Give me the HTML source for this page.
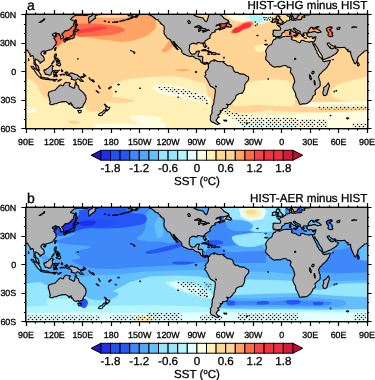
<!DOCTYPE html><html><head><meta charset="utf-8"><style>html,body{margin:0;padding:0;background:#fff;width:375px;height:380px;overflow:hidden}svg{display:block}text{stroke:#000;stroke-width:0.3px}</style></head><body>
<svg text-rendering="geometricPrecision" width="375" height="380" viewBox="0 0 375 380" font-family='"Liberation Sans", Arial, Helvetica, sans-serif' fill="#000">
<defs><clipPath id="clip"><rect x="26" y="14.5" width="341.5" height="114"/></clipPath>
<pattern id="dots" patternUnits="userSpaceOnUse" x="0" y="1" width="17" height="22"><g fill="#111"><circle cx="0.5" cy="0.5" r="0.8"/><circle cx="4.5" cy="0.5" r="0.8"/><circle cx="8.5" cy="0.5" r="0.8"/><circle cx="13.5" cy="0.5" r="0.8"/><circle cx="2.5" cy="2.5" r="0.8"/><circle cx="6.5" cy="2.5" r="0.8"/><circle cx="11.5" cy="2.5" r="0.8"/><circle cx="15.5" cy="2.5" r="0.8"/><circle cx="0.5" cy="4.5" r="0.8"/><circle cx="4.5" cy="4.5" r="0.8"/><circle cx="8.5" cy="4.5" r="0.8"/><circle cx="13.5" cy="4.5" r="0.8"/><circle cx="2.5" cy="7.5" r="0.8"/><circle cx="6.5" cy="7.5" r="0.8"/><circle cx="11.5" cy="7.5" r="0.8"/><circle cx="15.5" cy="7.5" r="0.8"/><circle cx="0.5" cy="9.5" r="0.8"/><circle cx="4.5" cy="9.5" r="0.8"/><circle cx="8.5" cy="9.5" r="0.8"/><circle cx="13.5" cy="9.5" r="0.8"/><circle cx="2.5" cy="11.5" r="0.8"/><circle cx="6.5" cy="11.5" r="0.8"/><circle cx="11.5" cy="11.5" r="0.8"/><circle cx="15.5" cy="11.5" r="0.8"/><circle cx="0.5" cy="13.5" r="0.8"/><circle cx="4.5" cy="13.5" r="0.8"/><circle cx="8.5" cy="13.5" r="0.8"/><circle cx="13.5" cy="13.5" r="0.8"/><circle cx="2.5" cy="15.5" r="0.8"/><circle cx="6.5" cy="15.5" r="0.8"/><circle cx="11.5" cy="15.5" r="0.8"/><circle cx="15.5" cy="15.5" r="0.8"/><circle cx="0.5" cy="18.5" r="0.8"/><circle cx="4.5" cy="18.5" r="0.8"/><circle cx="8.5" cy="18.5" r="0.8"/><circle cx="13.5" cy="18.5" r="0.8"/><circle cx="2.5" cy="20.5" r="0.8"/><circle cx="6.5" cy="20.5" r="0.8"/><circle cx="11.5" cy="20.5" r="0.8"/><circle cx="15.5" cy="20.5" r="0.8"/></g></pattern>
</defs>
<rect width="375" height="380" fill="#fff"/>
<g transform="translate(0,0.0)">
<g clip-path="url(#clip)">
<rect x="20" y="10" width="360" height="125" fill="#ffd494"/>
<path d="M112.0 86.0C114.0 83.5 120.3 81.3 125.0 80.0C129.7 78.7 134.2 78.6 140.0 78.0C145.8 77.4 153.3 76.7 160.0 76.5C166.7 76.3 174.2 76.2 180.0 77.0C185.8 77.8 190.5 79.7 195.0 81.0C199.5 82.3 204.5 82.7 207.0 85.0C209.5 87.3 209.2 91.7 210.0 95.0C210.8 98.3 211.3 101.2 212.0 105.0C212.7 108.8 213.7 113.8 214.0 118.0C214.3 122.2 233.8 128.0 214.0 130.0C194.2 132.0 114.8 131.7 95.0 130.0C75.2 128.3 94.2 123.0 95.0 120.0C95.8 117.0 98.2 114.7 100.0 112.0C101.8 109.3 103.8 106.8 106.0 104.0C108.2 101.2 112.0 98.0 113.0 95.0C114.0 92.0 110.0 88.5 112.0 86.0Z" fill="#fff0b6"/>
<path d="M20.0 79.0 L30.0 79.0 L37.0 85.0 L40.0 92.0 L45.0 98.0 L55.0 102.0 L70.0 104.0 L85.0 106.0 L95.0 108.0 L100.0 114.0 L100.0 130.0 L20.0 130.0Z" fill="#fff0b6"/>
<path d="M330.0 93.0C329.8 90.8 333.5 87.8 336.0 86.0C338.5 84.2 341.3 83.7 345.0 82.5C348.7 81.3 353.5 79.8 358.0 79.0C362.5 78.2 369.7 74.3 372.0 78.0C374.3 81.7 375.3 97.1 372.0 101.0C368.7 104.9 357.8 101.8 352.0 101.5C346.2 101.2 340.7 100.4 337.0 99.0C333.3 97.6 330.2 95.2 330.0 93.0Z" fill="#fff0b6"/>
<path d="M232.0 100.0C232.3 97.0 235.3 92.8 238.0 90.0C240.7 87.2 244.0 84.7 248.0 83.0C252.0 81.3 257.5 80.6 262.0 80.0C266.5 79.4 270.7 79.3 275.0 79.5C279.3 79.7 285.0 79.6 288.0 81.0C291.0 82.4 291.8 84.8 293.0 88.0C294.2 91.2 295.2 97.0 295.0 100.0C294.8 103.0 295.3 105.0 292.0 106.0C288.7 107.0 280.3 106.2 275.0 106.0C269.7 105.8 264.5 105.0 260.0 105.0C255.5 105.0 252.0 105.5 248.0 106.0C244.0 106.5 238.7 109.0 236.0 108.0C233.3 107.0 231.7 103.0 232.0 100.0Z" fill="#fff0b6"/>
<path d="M212.0 110.0 L240.0 108.0 L300.0 106.0 L372.0 103.0 L372.0 130.0 L212.0 130.0Z" fill="#fff0b6"/>
<path d="M86.0 83.0C87.8 80.5 91.8 80.2 95.0 80.0C98.2 79.8 102.2 81.0 105.0 82.0C107.8 83.0 111.2 83.8 112.0 86.0C112.8 88.2 111.0 92.0 110.0 95.0C109.0 98.0 107.7 101.5 106.0 104.0C104.3 106.5 102.3 108.7 100.0 110.0C97.7 111.3 94.3 112.3 92.0 112.0C89.7 111.7 87.3 110.8 86.0 108.0C84.7 105.2 84.0 99.2 84.0 95.0C84.0 90.8 84.2 85.5 86.0 83.0Z" fill="#ffd494"/>
<path d="M104.0 98.0C104.5 97.1 111.0 96.8 115.0 97.0C119.0 97.2 124.7 98.3 128.0 99.0C131.3 99.7 135.0 100.4 135.0 101.0C135.0 101.6 131.8 102.2 128.0 102.5C124.2 102.8 116.0 103.2 112.0 102.5C108.0 101.8 103.5 98.9 104.0 98.0Z" fill="#ffd494"/>
<path d="M232.0 107.0C234.3 105.9 244.0 105.7 250.0 105.5C256.0 105.3 265.0 105.2 268.0 106.0C271.0 106.8 271.0 108.9 268.0 110.0C265.0 111.1 255.3 112.2 250.0 112.5C244.7 112.8 239.0 112.9 236.0 112.0C233.0 111.1 229.7 108.1 232.0 107.0Z" fill="#ffd494"/>
<path d="M270.0 107.0C274.2 106.2 290.0 106.3 300.0 106.5C310.0 106.7 318.0 107.9 330.0 108.0C342.0 108.1 365.0 106.8 372.0 107.0C379.0 107.2 379.0 108.7 372.0 109.5C365.0 110.3 342.0 111.6 330.0 112.0C318.0 112.4 309.2 112.2 300.0 112.0C290.8 111.8 280.0 111.8 275.0 111.0C270.0 110.2 265.8 107.8 270.0 107.0Z" fill="#ffd494"/>
<path d="M69.0 121.0C69.8 120.5 73.2 120.2 75.0 120.5C76.8 120.8 80.0 121.9 80.0 122.5C80.0 123.1 76.7 124.0 75.0 124.2C73.3 124.4 71.0 124.0 70.0 123.5C69.0 123.0 68.2 121.5 69.0 121.0Z" fill="#ffd494"/>
<path d="M205.0 78.0C205.7 77.3 208.8 79.7 210.0 82.0C211.2 84.3 211.8 89.0 212.0 92.0C212.2 95.0 211.7 99.3 211.0 100.0C210.3 100.7 208.8 98.3 208.0 96.0C207.2 93.7 206.5 89.0 206.0 86.0C205.5 83.0 204.3 78.7 205.0 78.0Z" fill="#ffd494"/>
<path d="M152.0 87.5C152.0 86.0 156.2 84.8 160.0 84.5C163.8 84.2 170.0 84.8 175.0 85.5C180.0 86.2 185.3 87.6 190.0 89.0C194.7 90.4 199.5 92.3 203.0 94.0C206.5 95.7 210.0 97.4 211.0 99.0C212.0 100.6 211.7 103.1 209.0 103.5C206.3 103.9 200.2 102.5 195.0 101.5C189.8 100.5 183.8 98.8 178.0 97.5C172.2 96.2 164.3 95.2 160.0 93.5C155.7 91.8 152.0 89.0 152.0 87.5Z" fill="#fffce4"/>
<path d="M130.0 117.0C130.8 115.7 140.0 115.3 145.0 115.5C150.0 115.7 158.0 116.8 160.0 118.0C162.0 119.2 160.3 122.1 157.0 123.0C153.7 123.9 144.5 124.5 140.0 123.5C135.5 122.5 129.2 118.3 130.0 117.0Z" fill="#fffce4"/>
<path d="M146.0 119.0C148.2 118.3 156.7 120.0 160.0 121.0C163.3 122.0 166.0 124.0 166.0 125.0C166.0 126.0 163.2 127.0 160.0 127.0C156.8 127.0 149.3 126.3 147.0 125.0C144.7 123.7 143.8 119.7 146.0 119.0Z" fill="#fffce4"/>
<path d="M95.0 124.0 L120.0 123.5 L165.0 125.0 L165.0 130.0 L95.0 130.0Z" fill="#fffce4"/>
<path d="M20.0 108.0C21.3 107.1 27.2 107.2 30.0 107.5C32.8 107.8 36.5 109.1 37.0 110.0C37.5 110.9 35.5 112.5 33.0 113.0C30.5 113.5 24.2 113.8 22.0 113.0C19.8 112.2 18.7 108.9 20.0 108.0Z" fill="#fffce4"/>
<path d="M212.0 115.0 L240.0 114.0 L280.0 115.0 L320.0 113.0 L372.0 111.0 L372.0 130.0 L212.0 130.0Z" fill="#fffce4"/>
<path d="M300.0 103.0C304.2 102.3 318.0 102.2 330.0 102.0C342.0 101.8 365.0 100.9 372.0 101.5C379.0 102.1 379.0 104.7 372.0 105.5C365.0 106.3 341.2 106.4 330.0 106.5C318.8 106.6 310.0 106.6 305.0 106.0C300.0 105.4 295.8 103.7 300.0 103.0Z" fill="#fffce4"/>
<path d="M226.0 10.0 L274.0 10.0 L272.0 20.0 L265.0 23.0 L250.0 23.5 L235.0 21.0 L228.0 17.0Z" fill="#fffce4"/>
<path d="M243.0 10.0 L269.0 10.0 L268.0 21.0 L262.0 24.0 L252.0 24.0 L246.0 19.0Z" fill="#e2fefe"/>
<path d="M248.0 13.0 L262.0 13.0 L264.0 18.0 L262.0 22.0 L255.0 22.5 L250.0 20.0Z" fill="#b4f6fe"/>
<path d="M254.0 46.0C255.3 45.2 259.7 44.5 262.0 44.5C264.3 44.5 267.3 44.9 268.0 46.0C268.7 47.1 267.7 50.0 266.0 51.0C264.3 52.0 260.0 52.3 258.0 52.0C256.0 51.7 254.7 50.0 254.0 49.0C253.3 48.0 252.7 46.8 254.0 46.0Z" fill="#fff0b6"/>
<path d="M238.0 125.0 L260.0 123.5 L280.0 124.0 L294.0 125.0 L294.0 130.0 L238.0 130.0Z" fill="#e2fefe"/>
<path d="M70.0 10.0 L157.0 10.0 L156.0 19.0 L156.0 28.0 L148.0 35.6 L134.0 40.4 L122.0 42.3 L110.0 40.4 L98.0 39.2 L88.0 37.0 L79.0 35.0 L72.0 39.0 L64.0 43.0 L56.0 47.5 L50.0 47.0 L50.0 40.0 L56.0 33.0 L62.0 27.0 L68.0 20.0Z" fill="#ffa466"/>
<path d="M92.0 14.0 L134.0 14.0 L134.0 17.0 L115.0 18.0 L98.0 17.5Z" fill="#ffd494"/>
<path d="M171.0 38.0C172.7 37.2 175.4 39.3 176.0 40.5C176.6 41.7 175.7 43.4 174.5 45.0C173.3 46.6 170.8 48.7 169.0 50.0C167.2 51.3 164.7 52.5 163.5 52.6C162.3 52.7 161.4 51.7 161.8 50.5C162.2 49.3 164.5 47.6 166.0 45.5C167.5 43.4 169.3 38.8 171.0 38.0Z" fill="#ffa466"/>
<path d="M174.0 70.0C174.0 69.7 180.2 69.2 183.0 69.2C185.8 69.2 191.0 69.7 191.0 70.0C191.0 70.3 185.8 71.3 183.0 71.3C180.2 71.3 174.0 70.3 174.0 70.0Z" fill="#ffa466"/>
<path d="M230.5 31.5C231.1 30.2 234.1 27.9 236.0 26.5C237.9 25.1 239.8 23.9 242.0 23.0C244.2 22.1 247.1 21.1 249.0 21.0C250.9 20.9 253.0 21.3 253.5 22.2C254.0 23.1 253.4 25.2 252.0 26.5C250.6 27.8 247.3 28.7 245.0 29.8C242.7 30.9 240.1 32.3 238.0 33.0C235.9 33.7 233.8 34.2 232.5 34.0C231.2 33.8 229.9 32.8 230.5 31.5Z" fill="#ffa466"/>
<path d="M61.0 23.0C62.8 21.9 67.5 21.3 70.0 21.5C72.5 21.7 74.7 22.1 76.0 24.0C77.3 25.9 78.7 30.8 78.0 33.0C77.3 35.2 74.3 35.8 72.0 37.0C69.7 38.2 66.2 38.7 64.0 40.0C61.8 41.3 60.7 43.8 59.0 45.0C57.3 46.2 55.3 47.0 54.0 47.0C52.7 47.0 51.3 46.3 51.0 45.0C50.7 43.7 51.2 41.0 52.0 39.0C52.8 37.0 54.8 34.8 56.0 33.0C57.2 31.2 58.2 29.7 59.0 28.0C59.8 26.3 59.2 24.1 61.0 23.0Z" fill="#ff6a48"/>
<path d="M74.0 25.5C76.2 23.4 84.8 23.8 90.0 23.6C95.2 23.4 100.3 24.0 105.0 24.5C109.7 25.0 114.7 25.6 118.0 26.5C121.3 27.4 125.0 28.8 125.0 30.0C125.0 31.2 121.3 32.6 118.0 33.5C114.7 34.4 109.7 35.0 105.0 35.5C100.3 36.0 94.7 36.4 90.0 36.5C85.3 36.6 79.7 37.8 77.0 36.0C74.3 34.2 71.8 27.6 74.0 25.5Z" fill="#ff6a48"/>
<path d="M231.5 31.5C232.1 30.5 235.1 28.8 237.0 27.5C238.9 26.2 241.0 24.9 243.0 24.0C245.0 23.1 247.4 22.1 249.0 22.0C250.6 21.9 252.2 22.4 252.5 23.2C252.8 23.9 251.9 25.5 250.5 26.5C249.1 27.5 246.1 28.2 244.0 29.2C241.9 30.2 239.8 31.6 238.0 32.3C236.2 33.0 234.6 33.4 233.5 33.3C232.4 33.2 230.9 32.5 231.5 31.5Z" fill="#ff6a48"/>
<path d="M76.0 31.0C77.2 30.2 81.8 29.3 85.0 28.6C88.2 27.9 91.8 27.1 95.0 26.8C98.2 26.5 102.0 26.4 104.0 26.6C106.0 26.8 107.8 27.6 107.0 28.2C106.2 28.8 102.2 29.7 99.0 30.4C95.8 31.1 91.5 31.7 88.0 32.2C84.5 32.7 80.0 33.4 78.0 33.2C76.0 33.0 74.8 31.8 76.0 31.0Z" fill="#fc4044"/>
<path d="M232.5 31.0C232.5 30.2 233.8 28.7 235.0 28.0C236.2 27.3 238.2 27.6 239.5 27.0C240.8 26.4 241.2 25.2 242.5 24.5C243.8 23.8 246.1 23.1 247.5 23.0C248.9 22.9 250.8 23.2 251.0 24.0C251.2 24.8 250.2 26.7 249.0 27.5C247.8 28.3 245.5 28.1 244.0 28.8C242.5 29.5 241.5 30.8 240.0 31.5C238.5 32.2 236.2 33.1 235.0 33.0C233.8 32.9 232.5 31.8 232.5 31.0Z" fill="#f6303e"/>
<path d="M217.0 22.5 L227.0 22.5 L229.0 28.0 L218.0 28.5Z" fill="#fc4044"/>
<path d="M290.0 10.0 L314.0 10.0 L314.0 23.0 L290.0 23.0Z" fill="#b3b3b3"/>
<path d="M297.0 14.5 L302.5 14.5 L302.5 19.0 L298.0 20.0Z" fill="#ffa466"/>
<path d="M305.0 26.0 L322.0 25.5 L324.0 33.0 L310.0 34.0 L304.0 30.0Z" fill="#ffa466"/>
<path d="M324.0 23.0 L335.0 23.0 L335.0 38.0 L324.0 38.0Z" fill="#ff6a48"/>
<path d="M285.0 32.0C286.5 31.0 292.2 30.5 295.0 31.0C297.8 31.5 301.8 33.8 302.0 35.0C302.2 36.2 298.7 37.7 296.0 38.0C293.3 38.3 287.8 38.0 286.0 37.0C284.2 36.0 283.5 33.0 285.0 32.0Z" fill="#ffa466"/>
<path d="M157.5 86.8 L170.0 87.2 L185.0 89.5 L199.0 93.5 L206.0 96.5 L207.5 101.0 L200.0 100.2 L185.0 96.0 L170.0 92.0 L160.0 89.8Z" fill="url(#dots)"/>
<path d="M224.0 108.5 L232.0 111.0 L240.0 114.0 L250.0 115.5 L266.0 117.5 L296.0 118.0 L296.0 129.0 L245.0 129.0 L240.0 124.0 L232.0 118.0 L224.0 113.0Z" fill="url(#dots)"/>
<path d="M318.0 105.0 L368.0 105.0 L368.0 109.6 L318.0 109.6Z" fill="url(#dots)"/>
<path d="M296.0 119.0 L327.0 119.0 L327.0 127.0 L296.0 127.0Z" fill="url(#dots)"/>
<path d="M352.0 123.0 L368.0 123.0 L368.0 128.0 L352.0 128.0Z" fill="url(#dots)"/>
<circle cx="255.3" cy="22.0" r="0.8" fill="#111"/><circle cx="257.3" cy="24.0" r="0.8" fill="#111"/><circle cx="255.7" cy="25.6" r="0.8" fill="#111"/><circle cx="264.0" cy="17.6" r="0.8" fill="#111"/><circle cx="266.1" cy="17.6" r="0.8" fill="#111"/><circle cx="268.3" cy="18.0" r="0.8" fill="#111"/><circle cx="270.3" cy="17.3" r="0.8" fill="#111"/><circle cx="272.3" cy="18.1" r="0.8" fill="#111"/><circle cx="264.8" cy="19.7" r="0.8" fill="#111"/><circle cx="267.2" cy="20.0" r="0.8" fill="#111"/><circle cx="269.6" cy="19.7" r="0.8" fill="#111"/><circle cx="273.3" cy="19.6" r="0.8" fill="#111"/><circle cx="276.0" cy="18.0" r="0.8" fill="#111"/><circle cx="274.7" cy="21.3" r="0.8" fill="#111"/><circle cx="271.3" cy="21.6" r="0.8" fill="#111"/>
<g transform="translate(26.0,14.5) scale(0.947222,0.950000)">
<path d="M-95.6 24.0 L-96.3 23.2 L-97.4 22.8 L-98.9 23.0 L-98.8 21.8 L-99.5 21.2 L-99.3 20.2 L-98.8 18.1 L-99.3 17.0 L-98.0 16.3 L-95.5 16.5 L-92.0 16.6 L-91.5 16.4 L-91.2 14.5 L-92.2 12.8 L-94.7 11.6 L-93.0 11.2 L-91.6 11.3 L-91.4 10.3 L-89.8 10.5 L-88.5 9.8 L-87.5 8.9 L-86.4 8.5 L-85.4 7.5 L-85.1 6.8 L-83.5 6.5 L-81.5 6.3 L-81.3 5.0 L-81.9 3.5 L-81.4 2.9 L-79.5 2.3 L-79.6 3.5 L-79.2 4.7 L-80.1 5.2 L-79.0 6.0 L-77.0 5.7 L-75.5 6.1 L-73.5 5.5 L-71.5 5.2 L-70.4 5.6 L-68.8 4.8 L-69.0 3.5 L-68.3 2.5 L-67.4 2.3 L-66.5 3.0 L-65.7 2.8 L-65.6 1.7 L-66.5 1.1 L-65.5 0.5 L-63.5 0.5 L-62.0 0.5 L-59.8 0.1 L-61.0 -0.5 L-63.5 -0.5 L-67.0 0.1 L-68.5 -0.6 L-71.5 -0.3 L-71.1 0.2 L-71.8 0.7 L-72.5 1.3 L-73.4 2.1 L-73.6 3.4 L-74.5 3.9 L-75.7 4.5 L-77.1 4.6 L-77.4 3.8 L-78.1 2.4 L-78.9 1.0 L-79.4 0.2 L-79.8 0.9 L-80.7 1.3 L-82.0 1.9 L-83.4 1.9 L-84.4 1.2 L-84.8 0.5 L-85.1 -0.5 L-85.0 -2.0 L-70.0 -10.0 L10.0 -15.0 L90.0 -8.0 L100.0 -6.0 L92.0 -4.5 L89.0 -2.5 L84.0 -1.7 L80.5 0.0 L76.0 0.2 L73.5 1.0 L72.8 2.0 L73.3 3.9 L71.8 4.8 L70.1 6.0 L68.6 7.1 L67.5 8.4 L66.7 9.1 L66.3 7.5 L65.9 4.5 L66.8 2.5 L68.3 2.0 L70.2 0.6 L72.0 -0.5 L73.5 -2.0 L70.5 -1.8 L68.0 -1.5 L65.0 0.8 L62.0 1.0 L59.0 0.5 L56.0 0.7 L53.3 0.7 L51.0 1.5 L48.5 3.5 L47.0 5.3 L48.5 5.8 L50.3 6.2 L51.4 6.8 L50.6 8.5 L50.4 10.5 L50.0 12.0 L48.5 13.0 L46.0 15.8 L43.5 17.2 L42.0 16.8 L40.7 17.7 L39.7 19.1 L38.5 20.0 L37.5 20.5 L38.5 21.7 L39.4 23.0 L39.4 24.5 L39.0 24.9 L37.5 25.4 L36.4 25.6 L36.4 24.7 L36.8 23.5 L36.5 22.5 L35.3 22.2 L35.0 21.4 L35.3 20.5 L34.3 20.1 L32.9 20.4 L31.2 21.2 L32.2 19.6 L31.0 19.2 L29.5 20.1 L28.0 20.9 L27.7 21.6 L28.8 22.5 L29.8 22.8 L31.0 22.4 L32.6 22.6 L32.0 23.1 L30.5 23.8 L29.3 25.1 L30.3 25.8 L31.0 27.5 L31.9 28.3 L31.9 29.1 L31.5 29.5 L32.0 30.2 L31.5 31.5 L30.5 32.8 L29.6 33.8 L28.8 35.2 L27.5 36.3 L26.0 37.2 L24.3 37.7 L23.5 37.5 L22.0 38.3 L20.5 38.8 L20.2 39.7 L19.7 39.1 L19.7 38.5 L18.0 38.5 L16.8 39.3 L16.0 40.2 L15.7 41.2 L16.6 42.7 L18.2 44.0 L19.0 45.5 L19.3 47.5 L18.9 48.7 L17.0 49.6 L15.5 50.8 L14.8 51.4 L15.0 50.1 L14.5 49.5 L13.3 49.1 L12.6 47.8 L11.0 47.3 L10.2 46.7 L10.0 47.8 L9.2 49.8 L10.2 51.6 L10.6 52.8 L11.6 53.2 L12.5 54.0 L13.4 55.5 L13.5 57.2 L14.3 58.6 L13.5 58.7 L12.5 58.0 L11.3 57.1 L10.4 55.5 L10.3 54.0 L9.5 53.0 L8.3 52.0 L8.6 50.0 L8.5 47.5 L7.7 44.5 L7.3 43.2 L6.2 43.2 L5.3 44.2 L4.3 44.0 L4.5 42.5 L3.6 40.8 L2.3 39.2 L1.8 37.7 L0.6 37.5 L-1.0 38.2 L-3.0 38.5 L-3.5 39.8 L-5.0 40.7 L-6.5 42.0 L-7.7 43.3 L-9.1 44.2 L-9.9 46.4 L-10.2 48.8 L-11.0 49.8 L-11.8 51.1 L-12.5 51.9 L-13.5 51.1 L-14.2 48.8 L-15.3 47.0 L-16.2 44.5 L-17.0 42.0 L-17.2 40.5 L-17.4 38.7 L-18.0 38.8 L-19.5 39.2 L-21.0 37.8 L-19.7 37.1 L-21.4 36.7 L-22.7 35.8 L-23.4 34.6 L-26.0 34.7 L-28.5 34.9 L-31.0 34.6 L-32.7 34.2 L-33.7 32.9 L-35.5 33.4 L-37.5 32.5 L-39.0 31.2 L-40.0 29.9 L-41.4 30.0 L-42.0 30.7 L-41.4 32.0 L-40.4 33.2 L-39.8 34.2 L-39.3 35.0 L-38.8 33.9 L-38.4 34.8 L-38.4 35.7 L-37.0 35.9 L-35.5 35.7 L-34.2 34.6 L-33.7 33.7 L-33.6 35.1 L-32.7 36.1 L-31.3 36.4 L-30.2 37.5 L-31.2 39.1 L-32.2 40.8 L-33.2 41.4 L-34.7 42.4 L-36.5 43.3 L-37.8 44.4 L-40.5 45.4 L-42.0 46.0 L-44.5 47.0 L-46.5 47.3 L-47.2 45.2 L-47.4 43.4 L-48.8 41.2 L-50.2 39.5 L-50.9 38.0 L-51.8 36.0 L-52.9 34.4 L-54.4 32.4 L-55.2 31.1 L-55.1 30.5 L-55.7 32.0 L-56.8 31.4 L-57.4 30.1 L-57.7 28.8 L-55.8 28.7 L-55.1 27.5 L-54.4 25.6 L-54.1 24.5 L-53.8 23.4 L-54.5 23.4 L-55.8 23.8 L-57.2 23.9 L-59.2 23.2 L-60.5 23.8 L-62.4 23.2 L-62.7 22.5 L-63.7 21.7 L-63.1 20.9 L-63.8 20.4 L-63.6 19.7 L-62.5 19.5 L-61.0 19.2 L-61.0 18.8 L-63.9 19.4 L-66.0 19.2 L-67.0 19.5 L-67.3 19.5 L-67.4 20.4 L-66.7 21.0 L-67.5 21.7 L-66.0 21.8 L-66.9 22.1 L-67.2 23.5 L-68.3 23.2 L-68.9 22.2 L-68.4 21.6 L-69.3 21.1 L-70.0 20.3 L-70.6 19.5 L-70.5 18.2 L-71.5 17.5 L-73.0 16.8 L-74.5 16.1 L-75.7 14.8 L-76.4 14.9 L-76.3 14.3 L-77.7 14.7 L-77.6 15.7 L-76.4 16.5 L-75.3 18.0 L-73.8 18.3 L-72.0 19.4 L-71.5 19.9 L-72.9 19.5 L-73.5 20.3 L-72.9 21.1 L-74.0 22.1 L-74.4 21.7 L-74.0 20.5 L-75.1 19.7 L-76.0 19.1 L-77.4 18.6 L-78.8 17.6 L-79.5 17.0 L-79.8 16.1 L-81.2 15.6 L-82.5 16.2 L-84.0 16.9 L-85.2 16.6 L-86.8 16.8 L-86.8 18.1 L-88.0 18.8 L-89.2 19.4 L-90.3 20.6 L-89.8 21.3 L-90.6 22.4 L-92.0 23.3 L-94.4 23.3ZM264.4 24.0 L263.7 23.2 L262.6 22.8 L261.1 23.0 L261.2 21.8 L260.5 21.2 L260.7 20.2 L261.2 18.1 L260.7 17.0 L262.0 16.3 L264.5 16.5 L268.0 16.6 L268.5 16.4 L268.8 14.5 L267.8 12.8 L265.3 11.6 L267.0 11.2 L268.4 11.3 L268.6 10.3 L270.2 10.5 L271.5 9.8 L272.5 8.9 L273.6 8.5 L274.6 7.5 L274.9 6.8 L276.5 6.5 L278.5 6.3 L278.7 5.0 L278.1 3.5 L278.6 2.9 L280.5 2.3 L280.4 3.5 L280.8 4.7 L279.9 5.2 L281.0 6.0 L283.0 5.7 L284.5 6.1 L286.5 5.5 L288.5 5.2 L289.6 5.6 L291.2 4.8 L291.0 3.5 L291.7 2.5 L292.6 2.3 L293.5 3.0 L294.3 2.8 L294.4 1.7 L293.5 1.1 L294.5 0.5 L296.5 0.5 L298.0 0.5 L300.2 0.1 L299.0 -0.5 L296.5 -0.5 L293.0 0.1 L291.5 -0.6 L288.5 -0.3 L288.9 0.2 L288.2 0.7 L287.5 1.3 L286.6 2.1 L286.4 3.4 L285.5 3.9 L284.3 4.5 L282.9 4.6 L282.6 3.8 L281.9 2.4 L281.1 1.0 L280.6 0.2 L280.2 0.9 L279.3 1.3 L278.0 1.9 L276.6 1.9 L275.6 1.2 L275.2 0.5 L274.9 -0.5 L275.0 -2.0 L290.0 -10.0 L370.0 -15.0 L450.0 -8.0 L460.0 -6.0 L452.0 -4.5 L449.0 -2.5 L444.0 -1.7 L440.5 0.0 L436.0 0.2 L433.5 1.0 L432.8 2.0 L433.3 3.9 L431.8 4.8 L430.1 6.0 L428.6 7.1 L427.5 8.4 L426.7 9.1 L426.3 7.5 L425.9 4.5 L426.8 2.5 L428.3 2.0 L430.2 0.6 L432.0 -0.5 L433.5 -2.0 L430.5 -1.8 L428.0 -1.5 L425.0 0.8 L422.0 1.0 L419.0 0.5 L416.0 0.7 L413.3 0.7 L411.0 1.5 L408.5 3.5 L407.0 5.3 L408.5 5.8 L410.3 6.2 L411.4 6.8 L410.6 8.5 L410.4 10.5 L410.0 12.0 L408.5 13.0 L406.0 15.8 L403.5 17.2 L402.0 16.8 L400.7 17.7 L399.7 19.1 L398.5 20.0 L397.5 20.5 L398.5 21.7 L399.4 23.0 L399.4 24.5 L399.0 24.9 L397.5 25.4 L396.4 25.6 L396.4 24.7 L396.8 23.5 L396.5 22.5 L395.3 22.2 L395.0 21.4 L395.3 20.5 L394.3 20.1 L392.9 20.4 L391.2 21.2 L392.2 19.6 L391.0 19.2 L389.5 20.1 L388.0 20.9 L387.7 21.6 L388.8 22.5 L389.8 22.8 L391.0 22.4 L392.6 22.6 L392.0 23.1 L390.5 23.8 L389.3 25.1 L390.3 25.8 L391.0 27.5 L391.9 28.3 L391.9 29.1 L391.5 29.5 L392.0 30.2 L391.5 31.5 L390.5 32.8 L389.6 33.8 L388.8 35.2 L387.5 36.3 L386.0 37.2 L384.3 37.7 L383.5 37.5 L382.0 38.3 L380.5 38.8 L380.2 39.7 L379.7 39.1 L379.7 38.5 L378.0 38.5 L376.8 39.3 L376.0 40.2 L375.7 41.2 L376.6 42.7 L378.2 44.0 L379.0 45.5 L379.3 47.5 L378.9 48.7 L377.0 49.6 L375.5 50.8 L374.8 51.4 L375.0 50.1 L374.5 49.5 L373.3 49.1 L372.6 47.8 L371.0 47.3 L370.2 46.7 L370.0 47.8 L369.2 49.8 L370.2 51.6 L370.6 52.8 L371.6 53.2 L372.5 54.0 L373.4 55.5 L373.5 57.2 L374.3 58.6 L373.5 58.7 L372.5 58.0 L371.3 57.1 L370.4 55.5 L370.3 54.0 L369.5 53.0 L368.3 52.0 L368.6 50.0 L368.5 47.5 L367.7 44.5 L367.3 43.2 L366.2 43.2 L365.3 44.2 L364.3 44.0 L364.5 42.5 L363.6 40.8 L362.3 39.2 L361.8 37.7 L360.6 37.5 L359.0 38.2 L357.0 38.5 L356.5 39.8 L355.0 40.7 L353.5 42.0 L352.3 43.3 L350.9 44.2 L350.1 46.4 L349.8 48.8 L349.0 49.8 L348.2 51.1 L347.5 51.9 L346.5 51.1 L345.8 48.8 L344.7 47.0 L343.8 44.5 L343.0 42.0 L342.8 40.5 L342.6 38.7 L342.0 38.8 L340.5 39.2 L339.0 37.8 L340.3 37.1 L338.6 36.7 L337.3 35.8 L336.6 34.6 L334.0 34.7 L331.5 34.9 L329.0 34.6 L327.3 34.2 L326.3 32.9 L324.5 33.4 L322.5 32.5 L321.0 31.2 L320.0 29.9 L318.6 30.0 L318.0 30.7 L318.6 32.0 L319.6 33.2 L320.2 34.2 L320.7 35.0 L321.2 33.9 L321.6 34.8 L321.6 35.7 L323.0 35.9 L324.5 35.7 L325.8 34.6 L326.3 33.7 L326.4 35.1 L327.3 36.1 L328.7 36.4 L329.8 37.5 L328.8 39.1 L327.8 40.8 L326.8 41.4 L325.3 42.4 L323.5 43.3 L322.2 44.4 L319.5 45.4 L318.0 46.0 L315.5 47.0 L313.5 47.3 L312.8 45.2 L312.6 43.4 L311.2 41.2 L309.8 39.5 L309.1 38.0 L308.2 36.0 L307.1 34.4 L305.6 32.4 L304.8 31.1 L304.9 30.5 L304.3 32.0 L303.2 31.4 L302.6 30.1 L302.3 28.8 L304.2 28.7 L304.9 27.5 L305.6 25.6 L305.9 24.5 L306.2 23.4 L305.5 23.4 L304.2 23.8 L302.8 23.9 L300.8 23.2 L299.5 23.8 L297.6 23.2 L297.3 22.5 L296.3 21.7 L296.9 20.9 L296.2 20.4 L296.4 19.7 L297.5 19.5 L299.0 19.2 L299.0 18.8 L296.1 19.4 L294.0 19.2 L293.0 19.5 L292.7 19.5 L292.6 20.4 L293.3 21.0 L292.5 21.7 L294.0 21.8 L293.1 22.1 L292.8 23.5 L291.7 23.2 L291.1 22.2 L291.6 21.6 L290.7 21.1 L290.0 20.3 L289.4 19.5 L289.5 18.2 L288.5 17.5 L287.0 16.8 L285.5 16.1 L284.3 14.8 L283.6 14.9 L283.7 14.3 L282.3 14.7 L282.4 15.7 L283.6 16.5 L284.7 18.0 L286.2 18.3 L288.0 19.4 L288.5 19.9 L287.1 19.5 L286.5 20.3 L287.1 21.1 L286.0 22.1 L285.6 21.7 L286.0 20.5 L284.9 19.7 L284.0 19.1 L282.6 18.6 L281.2 17.6 L280.5 17.0 L280.2 16.1 L278.8 15.6 L277.5 16.2 L276.0 16.9 L274.8 16.6 L273.2 16.8 L273.2 18.1 L272.0 18.8 L270.8 19.4 L269.7 20.6 L270.2 21.3 L269.4 22.4 L268.0 23.3 L265.6 23.3ZM264.1 24.2 L263.7 25.0 L263.2 26.0 L261.5 26.7 L260.7 27.7 L260.2 29.4 L259.5 30.9 L258.5 31.9 L257.0 32.4 L255.5 33.9 L254.5 35.5 L253.8 36.5 L253.0 38.7 L253.5 40.4 L253.9 42.0 L253.5 44.0 L252.8 45.2 L253.2 46.5 L253.2 47.7 L254.5 48.6 L255.4 49.6 L256.7 50.8 L257.5 52.3 L258.7 53.2 L260.2 54.4 L262.4 55.6 L264.5 54.9 L267.0 54.9 L268.0 55.2 L270.5 54.2 L272.5 53.7 L274.5 53.7 L275.6 55.0 L276.5 55.7 L278.0 55.5 L279.0 56.0 L279.8 57.2 L279.4 59.0 L279.0 60.7 L280.0 62.0 L281.5 63.8 L282.3 65.5 L283.0 67.5 L283.4 69.3 L283.8 70.8 L282.5 73.6 L281.8 76.0 L281.8 77.5 L282.5 79.0 L283.5 81.0 L284.5 82.5 L284.8 85.0 L285.2 86.7 L286.5 88.6 L287.3 90.5 L288.2 92.3 L288.4 94.0 L289.5 94.6 L290.0 94.8 L292.0 94.0 L294.0 94.1 L295.7 94.0 L297.0 93.4 L298.5 92.3 L300.3 90.8 L301.5 89.0 L302.5 87.5 L302.8 85.9 L303.5 85.4 L305.3 84.3 L305.5 82.0 L305.0 80.3 L306.5 78.8 L308.0 77.4 L309.8 76.2 L310.6 74.8 L310.5 72.0 L310.4 70.3 L309.5 68.8 L309.3 67.0 L308.8 66.0 L309.2 64.6 L310.2 62.8 L311.5 61.8 L313.0 60.0 L314.5 58.5 L316.0 57.5 L317.8 55.5 L319.0 53.5 L320.0 52.0 L320.8 50.0 L321.3 48.2 L320.5 48.2 L318.5 48.8 L316.5 49.2 L315.0 49.6 L314.0 49.5 L313.3 48.5 L313.2 47.6 L312.6 46.8 L311.6 46.0 L310.7 45.0 L309.6 44.5 L309.1 43.5 L308.5 42.0 L307.4 41.2 L307.3 39.5 L306.9 38.0 L305.6 36.8 L305.4 35.9 L304.6 34.2 L304.0 33.0 L303.5 32.2 L302.6 30.2 L302.3 28.8 L301.0 28.4 L300.0 28.7 L299.0 29.1 L297.5 28.7 L295.2 28.4 L294.0 28.0 L293.0 27.4 L291.6 27.1 L290.1 27.7 L289.9 29.0 L289.0 29.7 L288.0 29.2 L286.0 28.7 L285.2 27.7 L283.0 27.1 L281.5 26.9 L280.5 26.4 L280.2 25.7 L281.0 24.7 L280.5 23.8 L281.0 23.0 L280.2 22.8 L279.5 22.7 L278.0 23.1 L276.0 23.0 L274.5 23.1 L273.0 23.2 L271.0 23.5 L269.5 24.2 L267.8 24.9 L266.5 24.7 L264.7 24.1ZM319.3 72.0 L320.4 75.5 L319.5 77.5 L318.7 80.0 L317.5 84.5 L315.2 85.5 L314.0 84.8 L313.3 82.0 L314.4 79.5 L314.0 77.0 L316.5 75.5 L318.0 73.7ZM104.0 -8.0 L105.0 -1.5 L105.5 -0.5 L107.5 0.1 L108.0 1.3 L110.0 1.4 L112.0 1.3 L113.0 1.7 L111.5 3.1 L109.5 4.0 L107.5 4.7 L105.2 5.5 L107.0 5.3 L109.0 4.7 L111.0 4.3 L112.5 3.5 L114.0 2.7 L115.5 1.7 L116.5 0.8 L118.2 0.9 L119.0 0.2 L120.5 0.1 L122.0 -0.2 L123.5 -0.8 L125.5 -0.1 L128.0 0.0 L130.0 0.3 L131.5 1.0 L133.0 1.7 L133.8 2.2 L135.0 3.2 L136.0 4.0 L137.0 5.0 L138.5 5.5 L139.7 5.7 L140.0 7.0 L141.5 8.0 L142.5 9.2 L141.7 9.2 L144.0 10.8 L145.4 11.6 L145.3 11.8 L145.9 13.1 L146.0 15.5 L145.5 17.2 L145.9 18.5 L145.6 19.6 L146.2 20.5 L147.0 22.0 L147.5 22.5 L148.1 23.4 L148.5 24.1 L149.3 25.0 L149.4 25.5 L150.5 25.6 L151.5 26.0 L152.4 26.6 L152.9 27.5 L153.4 28.4 L153.9 29.5 L154.3 30.2 L155.0 31.3 L155.9 32.0 L155.7 32.8 L157.0 33.5 L157.8 34.7 L158.8 35.8 L160.0 37.1 L160.5 36.7 L159.7 35.7 L159.3 35.1 L158.7 34.1 L158.0 33.0 L157.2 31.8 L156.5 30.7 L155.5 29.7 L155.2 28.4 L156.5 28.7 L157.2 30.0 L158.0 31.1 L159.0 32.1 L160.2 33.3 L161.0 34.4 L162.5 35.5 L163.6 36.8 L164.5 38.0 L164.4 39.5 L164.8 40.1 L165.7 40.9 L166.5 41.7 L168.0 42.1 L170.0 43.1 L171.5 43.7 L173.5 44.3 L175.0 43.8 L176.0 43.9 L177.0 44.4 L177.8 45.4 L179.0 46.1 L180.5 46.5 L182.0 46.8 L182.6 47.1 L183.5 47.8 L184.2 48.8 L184.2 49.7 L184.8 50.2 L185.5 50.5 L186.3 51.4 L187.1 51.9 L188.5 52.3 L189.6 52.6 L190.0 52.0 L190.5 51.1 L191.5 51.4 L192.0 52.5 L192.6 53.0 L192.7 52.0 L192.5 51.3 L191.5 50.6 L190.4 50.4 L189.5 50.9 L188.5 51.2 L187.5 50.6 L186.6 49.6 L186.3 48.5 L186.5 47.3 L186.6 45.7 L186.8 45.0 L185.5 44.1 L184.0 44.1 L182.4 44.2 L181.7 43.8 L181.8 42.5 L182.2 41.5 L182.5 40.2 L183.2 38.8 L182.5 38.5 L181.5 38.5 L179.7 38.9 L179.5 40.0 L179.2 40.8 L178.2 41.4 L177.0 41.5 L175.5 41.9 L174.5 41.3 L173.5 40.5 L172.8 39.3 L172.3 38.2 L172.2 37.0 L172.4 35.5 L172.8 34.2 L172.6 32.8 L173.0 32.0 L174.0 31.4 L175.0 30.8 L176.0 30.3 L177.5 30.4 L178.5 30.7 L179.5 30.9 L180.6 31.0 L180.6 29.9 L181.5 29.6 L182.5 29.7 L183.5 29.6 L184.7 30.3 L185.7 30.0 L186.5 30.6 L187.5 30.2 L188.6 29.5 L188.8 28.3 L189.5 27.7 L190.5 27.0 L191.4 26.2 L192.3 25.7 L193.4 25.3 L194.5 24.8 L194.2 23.8 L194.0 23.1 L194.3 22.5 L194.8 21.7 L195.0 21.1 L195.6 20.6 L196.0 19.8 L196.1 19.4 L197.5 19.0 L198.5 18.6 L199.4 18.4 L200.0 18.2 L199.5 17.8 L199.2 17.1 L199.8 16.3 L201.0 15.9 L202.5 15.5 L203.0 15.1 L204.0 14.7 L205.2 14.5 L203.8 15.8 L204.5 16.4 L206.0 15.6 L207.5 15.2 L209.0 14.7 L210.0 14.3 L209.7 13.5 L209.4 13.0 L208.5 13.8 L207.5 14.3 L206.0 14.0 L205.3 13.0 L204.5 12.2 L205.7 11.5 L205.5 11.0 L203.7 10.9 L202.0 11.5 L200.5 12.2 L201.5 10.9 L203.0 10.5 L205.0 9.8 L207.0 9.7 L209.5 9.8 L211.5 9.0 L212.8 8.5 L214.2 7.7 L213.8 6.5 L212.5 5.7 L210.5 4.8 L209.0 4.0 L208.2 3.0 L207.5 2.0 L206.0 1.0 L205.5 -0.3 L205.0 -1.0 L170.0 -6.0ZM192.6 53.0 L192.4 54.0 L192.7 56.0 L192.0 57.5 L191.1 58.6 L190.0 59.2 L189.9 60.5 L189.1 61.2 L189.7 62.5 L190.0 63.2 L188.8 64.3 L189.0 65.6 L190.1 66.8 L191.0 68.2 L192.0 70.0 L193.0 72.0 L193.8 73.8 L195.0 75.5 L197.0 76.6 L198.5 77.5 L199.7 78.4 L199.9 80.5 L199.6 83.3 L199.4 85.5 L199.0 87.8 L198.5 90.0 L198.4 92.5 L197.9 94.5 L197.2 96.0 L196.5 97.5 L196.7 99.5 L196.3 101.0 L196.2 102.5 L196.4 104.0 L195.4 105.5 L194.5 106.8 L195.0 108.5 L194.5 110.5 L195.0 112.0 L196.5 113.3 L198.5 114.0 L200.5 115.2 L202.5 115.7 L204.0 115.0 L204.8 114.7 L203.5 114.4 L202.2 113.5 L201.6 112.5 L200.8 111.8 L201.0 110.8 L201.8 110.0 L202.3 109.0 L204.0 107.8 L202.7 106.5 L202.5 105.8 L204.0 105.0 L204.8 104.5 L205.2 102.8 L206.3 102.6 L205.5 102.0 L205.0 101.0 L206.5 101.1 L207.8 100.5 L207.8 99.0 L209.0 98.9 L211.0 98.7 L212.4 98.0 L213.0 97.0 L213.3 96.3 L212.7 95.4 L211.6 94.4 L212.5 94.4 L214.0 94.9 L215.5 94.6 L216.5 93.7 L217.5 92.5 L218.7 91.0 L219.7 90.0 L221.0 88.5 L221.5 87.0 L221.5 85.7 L222.5 84.8 L224.0 84.0 L225.5 83.2 L227.0 83.0 L228.1 82.9 L229.0 82.0 L229.5 80.8 L230.3 79.3 L230.8 77.6 L231.0 75.5 L231.0 73.8 L231.6 72.9 L232.5 71.5 L233.7 70.3 L234.7 69.0 L235.1 67.5 L235.0 66.0 L234.5 65.2 L232.8 64.7 L231.5 63.7 L230.2 62.8 L228.5 62.8 L226.5 62.4 L225.5 62.5 L224.5 61.5 L223.0 60.7 L221.5 61.0 L220.5 60.2 L219.5 59.5 L219.0 58.2 L218.5 56.2 L217.2 54.7 L216.0 54.2 L214.5 54.0 L213.0 54.0 L211.7 53.2 L210.5 52.0 L209.5 51.4 L208.4 50.3 L207.5 49.5 L206.0 49.4 L204.5 49.8 L203.5 49.4 L201.8 49.5 L201.2 48.6 L200.0 48.4 L199.8 47.9 L199.2 48.8 L198.4 49.2 L198.0 48.4 L198.5 47.6 L197.7 48.2 L196.8 48.7 L195.5 49.0 L194.5 49.6 L194.2 50.7 L193.5 51.4 L192.7 52.0ZM24.0 81.8 L23.4 84.5 L24.0 86.0 L24.9 89.0 L25.0 90.5 L25.7 92.0 L25.0 93.5 L25.0 94.3 L26.5 95.0 L28.0 95.0 L30.0 93.9 L32.0 93.9 L34.0 93.0 L36.0 92.3 L39.0 91.7 L41.0 91.5 L43.0 92.1 L44.3 93.0 L45.6 94.9 L46.0 93.8 L47.8 93.0 L47.5 94.5 L48.0 95.6 L48.5 94.8 L49.5 95.9 L50.0 97.4 L51.5 98.4 L53.5 98.8 L54.9 97.9 L56.4 99.1 L57.9 97.9 L59.9 97.5 L60.1 96.0 L61.2 93.9 L62.5 92.3 L63.1 90.3 L63.6 88.6 L63.1 87.0 L63.1 85.5 L62.0 84.5 L60.8 82.5 L59.0 81.0 L58.0 80.0 L56.3 78.8 L55.5 76.0 L55.3 74.9 L53.5 74.0 L53.0 71.6 L52.5 70.7 L52.0 72.5 L51.6 75.0 L51.4 76.5 L50.7 77.5 L49.5 77.4 L47.8 76.2 L46.7 75.8 L45.5 74.8 L46.0 73.5 L46.8 72.2 L46.0 72.0 L43.0 71.5 L42.6 71.3 L41.0 72.2 L40.0 73.2 L39.6 74.9 L38.2 75.0 L37.0 74.0 L35.8 74.5 L34.5 75.5 L33.5 76.6 L32.2 77.9 L31.0 79.5 L29.0 80.0 L27.0 80.6 L25.5 81.0ZM30.6 41.5 L32.2 41.5 L32.1 43.0 L31.6 44.1 L31.6 45.8 L33.0 46.2 L34.1 47.1 L33.5 47.3 L32.6 46.7 L31.7 46.1 L30.9 46.1 L30.6 45.5 L30.0 45.2 L29.8 43.8 L30.4 43.5ZM32.0 53.1 L32.2 52.1 L33.7 52.0 L34.7 51.1 L35.5 50.2 L36.6 52.7 L36.2 53.7 L35.4 54.4 L34.0 53.7ZM19.0 58.2 L19.6 58.0 L21.0 58.4 L21.8 57.2 L23.0 56.8 L24.0 55.5 L25.0 55.0 L26.0 54.0 L27.0 53.0 L27.7 54.0 L29.2 54.6 L28.3 55.1 L27.7 55.8 L27.9 59.0 L29.0 59.1 L27.5 60.5 L26.6 61.5 L26.3 63.5 L24.5 64.0 L23.0 63.2 L21.7 63.0 L20.2 62.9 L20.0 61.5 L19.0 60.0ZM41.0 61.3 L42.5 60.4 L44.0 60.9 L44.2 62.5 L45.5 63.4 L47.0 61.5 L48.5 61.7 L50.5 62.4 L52.5 63.2 L54.5 63.8 L55.8 65.3 L57.5 66.0 L57.8 66.8 L58.0 68.0 L59.5 69.3 L60.6 70.5 L59.5 70.3 L57.5 70.1 L56.0 68.3 L54.5 67.5 L53.0 69.0 L51.0 69.1 L49.0 68.1 L48.0 68.4 L47.8 67.6 L48.5 66.5 L47.0 64.9 L45.0 64.4 L43.0 64.0 L42.0 62.8 L43.5 62.5 L42.0 62.0ZM210.6 12.4 L212.5 12.4 L214.5 13.0 L216.4 13.4 L217.3 12.5 L216.5 11.7 L216.2 10.7 L214.5 10.4 L214.4 8.4 L213.0 9.2 L211.5 10.8ZM298.0 18.5 L298.0 17.2 L298.7 16.0 L299.7 14.8 L300.8 13.5 L302.0 13.5 L303.6 13.9 L302.5 14.6 L303.6 15.6 L305.3 15.1 L306.6 14.7 L307.3 15.1 L308.3 15.8 L309.9 16.6 L311.6 18.4 L310.0 19.0 L308.0 19.1 L306.5 18.7 L305.0 18.0 L303.5 18.0 L301.5 18.8 L299.1 18.8ZM305.0 14.4 L305.5 14.6 L306.6 14.6 L308.0 13.5 L309.3 12.8 L307.5 12.9 L305.4 13.5ZM317.0 15.2 L317.5 14.4 L319.2 13.5 L321.5 13.0 L323.2 13.3 L323.0 14.7 L321.2 15.6 L320.5 16.0 L321.3 16.9 L322.7 18.0 L322.8 19.0 L323.9 19.2 L323.0 20.8 L324.0 22.5 L323.0 23.2 L321.0 23.3 L319.0 22.4 L318.8 21.2 L319.4 19.8 L318.6 18.2 L317.5 17.0 L317.5 16.0ZM177.0 -1.0 L177.4 0.9 L181.3 2.5 L187.0 3.7 L188.7 6.5 L190.4 7.6 L191.5 5.9 L192.6 2.0 L193.2 0.3 L193.0 -1.0Z" fill="#b3b3b3" fill-rule="evenodd" stroke="#000" stroke-width="1.1" vector-effect="non-scaling-stroke" stroke-linejoin="round"/>
<path d="M54.6 100.7 L56.5 101.1 L58.3 100.9 L58.3 102.0 L57.9 103.2 L56.0 103.6 L55.2 102.2ZM82.7 94.4 L84.3 95.5 L85.5 96.8 L86.5 97.7 L88.5 97.7 L87.9 99.3 L86.9 100.0 L85.3 101.6 L84.6 101.3 L85.2 100.2 L83.8 99.3 L84.6 98.2 L84.3 96.6 L83.0 95.0ZM82.7 100.5 L84.3 101.0 L84.0 101.8 L83.0 103.0 L82.7 103.8 L81.2 104.5 L80.7 105.9 L79.0 106.6 L76.5 106.0 L76.8 105.2 L78.3 104.0 L80.5 103.0 L81.5 101.8 L82.1 100.8ZM50.0 18.5 L51.2 18.2 L51.6 17.4 L53.2 18.0 L54.5 17.0 L55.8 16.6 L55.0 15.9 L53.0 15.5 L51.9 14.5 L51.6 15.6 L51.4 16.8 L50.3 16.7 L49.9 17.8ZM51.4 18.6 L52.0 20.5 L51.0 21.8 L51.0 23.0 L50.8 24.0 L50.9 24.3 L49.8 25.0 L49.2 24.8 L48.8 25.4 L47.2 25.4 L46.8 25.7 L45.8 26.5 L45.1 25.7 L44.3 25.3 L43.0 25.6 L41.9 26.0 L40.9 26.0 L41.5 25.4 L42.6 24.5 L44.0 24.4 L45.8 24.4 L46.7 23.7 L47.0 22.5 L47.5 23.0 L48.5 22.3 L49.5 21.5 L50.0 20.5 L50.0 19.5 L50.3 18.8ZM40.9 26.1 L41.9 26.8 L41.4 28.6 L40.7 29.0 L40.2 28.7 L40.2 27.5 L39.6 26.8 L40.5 26.2ZM42.0 26.5 L43.0 27.3 L44.3 26.7 L44.6 25.9 L43.5 25.7 L42.6 26.0ZM52.0 14.0 L53.5 13.5 L53.2 10.8 L54.5 11.2 L53.2 9.0 L53.2 8.0 L53.3 6.7 L52.7 5.6 L52.2 6.0 L52.2 8.0 L51.6 9.0 L52.1 11.0 L51.9 12.5ZM30.1 37.0 L30.7 38.0 L31.0 37.5 L31.6 36.0 L31.9 35.0 L31.5 34.7 L30.7 35.4ZM18.6 40.8 L19.7 41.8 L20.5 41.3 L21.0 40.3 L20.5 39.9 L19.7 40.0ZM34.3 47.5 L35.7 48.8 L35.2 50.0 L34.8 49.7 L34.4 48.6ZM31.9 48.1 L33.2 49.0 L33.2 50.7 L32.5 50.4 L32.0 49.4ZM33.4 48.8 L34.0 49.6 L33.5 50.3ZM30.3 46.5 L31.5 46.8 L31.2 47.7 L30.6 47.5ZM27.2 51.7 L29.5 48.6 L29.7 49.4 L27.5 52.0ZM5.3 54.4 L7.5 54.8 L8.7 56.3 L10.4 57.8 L11.5 58.3 L13.5 60.0 L14.2 61.0 L15.0 62.5 L15.9 63.8 L15.8 65.8 L14.5 65.9 L12.3 64.0 L10.9 62.0 L10.3 60.9 L9.3 59.8 L8.7 58.3 L7.5 57.4 L6.0 55.8ZM15.2 66.8 L16.0 65.9 L18.3 66.3 L20.4 66.9 L22.6 66.9 L24.4 67.7 L24.6 68.7 L22.0 68.3 L20.0 68.1 L18.0 67.8 L16.4 67.4ZM29.4 65.5 L29.6 63.5 L28.9 62.6 L29.8 60.0 L30.1 59.3 L31.0 58.7 L32.5 59.0 L34.5 59.0 L35.2 58.4 L34.3 59.6 L33.0 59.5 L31.0 59.5 L30.2 59.8 L30.5 61.0 L31.5 61.0 L33.3 60.9 L32.5 61.5 L31.3 62.0 L32.4 63.5 L33.2 64.7 L32.5 65.5 L31.5 64.6 L31.0 63.0 L30.4 62.9 L30.4 65.5ZM37.5 57.8 L38.0 58.7 L38.7 59.0 L37.9 59.5 L38.8 59.7 L38.0 60.3 L37.4 59.5ZM38.0 62.9 L40.0 62.9 L40.8 63.6 L39.5 63.5 L38.2 63.4ZM36.0 63.2 L37.2 63.2 L37.0 63.8 L36.2 63.8ZM58.3 65.5 L60.0 65.0 L61.5 64.3 L62.3 64.5 L61.5 65.5 L60.0 66.2 L58.5 66.0ZM60.5 62.6 L62.5 64.0 L63.2 64.7 L62.6 64.4 L61.2 63.0ZM74.0 80.2 L75.5 81.0 L77.0 82.3 L76.5 82.4 L74.3 80.6ZM349.9 50.2 L351.0 51.2 L351.9 52.7 L351.6 53.6 L350.6 54.1 L350.0 53.5 L349.8 52.0ZM264.3 9.9 L265.8 9.6 L267.0 9.3 L269.0 9.2 L271.4 8.8 L271.0 8.2 L271.7 7.3 L270.3 7.0 L270.1 6.4 L269.8 5.8 L268.7 5.2 L268.4 4.4 L267.5 4.0 L267.4 3.6 L268.2 2.5 L266.5 2.3 L267.0 1.4 L265.0 1.4 L264.5 2.5 L264.3 3.5 L264.5 4.6 L265.2 5.0 L265.0 5.3 L266.8 5.2 L266.5 6.0 L267.0 6.7 L265.4 6.7 L265.9 7.2 L265.9 7.7 L264.7 8.2 L266.0 8.4 L267.0 8.8 L265.5 9.0ZM264.0 7.8 L263.9 6.7 L264.0 5.5 L264.1 4.8 L262.7 4.6 L261.5 5.1 L260.0 5.8 L260.5 6.7 L260.1 7.8 L259.7 8.2 L260.5 8.5 L262.0 8.2 L263.7 7.8ZM185.1 38.1 L187.0 37.1 L189.0 36.9 L190.5 37.6 L192.5 38.3 L194.3 38.9 L195.9 39.8 L194.5 40.1 L192.3 40.1 L192.7 39.3 L191.5 38.5 L189.5 38.0 L188.0 37.8 L186.5 38.0ZM195.6 41.5 L197.2 40.1 L199.0 40.1 L200.5 40.8 L201.7 41.4 L200.5 41.7 L198.9 42.3 L197.5 41.8 L195.6 41.7ZM191.7 41.6 L193.7 41.9 L193.2 42.2 L191.8 41.8ZM202.8 41.5 L204.4 41.6 L204.2 42.0 L202.8 42.0ZM115.2 2.7 L117.8 2.0 L117.5 2.5 L116.0 3.3ZM282.4 22.0 L285.6 21.7 L285.1 23.3 L282.6 22.4ZM278.2 19.0 L279.6 18.9 L279.6 20.9 L278.4 21.1 L278.4 20.0ZM278.6 18.0 L279.4 17.0 L279.6 17.9 L279.2 18.6ZM293.5 24.5 L296.3 24.7 L296.2 25.0 L294.0 24.8ZM302.3 25.0 L304.6 24.4 L304.0 25.1 L303.0 25.4ZM226.0 0.2 L227.0 -0.2 L223.0 -1.0 L222.0 -1.0ZM208.7 111.2 L212.0 111.3 L211.5 112.2 L209.5 112.0ZM323.3 47.3 L324.5 47.4 L324.2 47.7 L323.5 47.7ZM2.7 46.5 L3.0 48.0 L2.6 48.5ZM25.0 68.1 L25.7 68.4 L25.2 68.8ZM26.0 68.3 L26.7 68.3 L26.4 68.9ZM27.0 68.5 L29.0 68.3 L28.8 68.8 L27.2 69.0ZM29.8 68.5 L32.8 68.2 L32.5 68.7 L30.0 68.8ZM33.5 70.3 L35.0 69.0 L37.3 68.4 L36.0 69.2 L34.2 70.2ZM29.0 69.5 L30.8 69.8 L30.5 70.3 L29.2 69.8ZM66.5 66.6 L67.5 67.3 L67.0 67.5ZM67.5 68.2 L69.5 69.3 L70.5 69.8 L69.8 69.9 L68.0 68.8ZM70.5 68.5 L71.5 69.5 L71.2 69.6 L70.6 68.9ZM70.2 70.3 L71.9 70.6 L72.2 70.8 L71.3 70.9ZM76.6 74.7 L77.2 75.6 L76.8 75.6ZM77.2 76.1 L78.5 77.7 L78.2 77.8 L77.2 76.6ZM87.3 77.5 L88.6 77.4 L88.4 78.2 L87.4 78.1ZM88.8 76.4 L90.0 76.1 L89.8 76.8 L88.7 76.9ZM114.1 39.8 L115.0 40.3 L114.4 41.1 L114.0 40.4ZM113.4 39.0 L114.0 39.2 L113.6 39.4ZM111.8 38.4 L112.3 38.7 L111.9 38.7ZM110.3 37.8 L110.7 37.9 L110.4 38.1ZM186.5 30.6 L187.3 31.5 L187.4 32.7 L188.2 33.8 L189.0 34.8 L189.6 34.7 L189.9 33.7 L189.7 32.5 L189.4 31.5 L188.8 30.4 L188.6 29.5ZM102.4 6.2 L103.4 5.9 L104.4 6.2 L103.4 6.5ZM100.8 6.6 L101.7 6.3 L102.6 6.6 L101.7 6.9ZM99.0 7.2 L99.5 6.9 L100.0 7.2 L99.5 7.5ZM95.7 7.8 L96.5 7.5 L97.3 7.8 L96.5 8.0ZM94.6 7.8 L95.4 7.5 L96.2 7.8 L95.4 8.0ZM92.6 8.1 L93.3 7.8 L94.0 8.1 L93.3 8.4ZM91.4 8.2 L92.0 7.9 L92.6 8.2 L92.0 8.5ZM86.9 8.0 L87.5 7.7 L88.1 8.0 L87.5 8.3ZM82.4 7.1 L83.2 6.8 L84.0 7.1 L83.2 7.4ZM107.0 5.4 L107.5 5.2 L108.0 5.4 L107.5 5.6ZM325.1 81.1 L325.5 80.7 L325.9 81.1 L325.5 81.5ZM327.2 80.3 L327.6 79.9 L328.0 80.3 L327.6 80.7ZM338.3 109.3 L339.5 108.7 L340.7 109.3 L339.5 109.9ZM321.1 106.4 L321.5 106.1 L321.9 106.4 L321.5 106.7ZM255.4 67.9 L255.7 67.6 L256.0 67.9 L255.7 68.2ZM120.0 77.6 L120.5 77.3 L121.0 77.6 L120.5 77.9ZM96.9 73.7 L97.7 73.3 L98.5 73.7 L97.7 74.1ZM94.3 81.2 L94.8 80.8 L95.3 81.2 L94.8 81.6ZM178.8 60.5 L179.5 59.9 L180.2 60.5 L179.5 61.1ZM160.3 87.1 L160.6 86.8 L160.9 87.1 L160.6 87.4ZM232.5 114.3 L233.5 114.0 L234.5 114.3 L233.5 114.6ZM243.8 22.2 L244.4 21.9 L245.0 22.2 L244.4 22.5ZM252.0 31.7 L253.5 31.3 L255.0 31.7 L253.5 32.1ZM252.6 27.3 L253.0 27.0 L253.4 27.3 L253.0 27.6ZM54.5 46.6 L54.8 46.3 L55.1 46.6 L54.8 46.9ZM189.2 33.4 L190.0 32.8 L190.8 33.4 L190.0 34.0ZM192.0 35.5 L192.5 34.7 L193.0 35.5 L192.5 36.3ZM208.6 45.5 L209.0 44.9 L209.4 45.5 L209.0 46.1ZM208.1 49.6 L208.7 49.2 L209.3 49.6 L208.7 50.0ZM190.7 93.6 L191.0 93.3 L191.3 93.6 L191.0 93.9Z" fill="none" stroke="#000" stroke-width="1.1" vector-effect="non-scaling-stroke" stroke-linejoin="round"/>
<path d="M13.8 8.4 L15.5 8.2 L17.5 7.0 L19.5 5.5 L19.8 4.3 L19.3 4.2 L18.5 5.5 L16.5 6.8 L14.5 8.0ZM171.5 9.5 L173.0 9.5 L173.5 8.0 L172.0 6.2 L170.8 7.0ZM328.5 16.0 L331.0 15.5 L331.5 13.5 L329.5 13.8 L328.2 14.5ZM344.0 14.0 L346.0 13.4 L349.0 13.5 L349.2 13.1 L346.0 13.0 L344.3 13.2ZM301.8 61.0 L303.0 59.7 L304.0 59.8 L304.0 61.5 L303.0 62.5 L301.8 62.2ZM299.2 63.4 L299.6 63.4 L301.0 66.0 L301.2 68.6 L300.6 68.6 L299.5 66.5ZM304.2 69.5 L304.6 69.6 L305.2 72.0 L305.3 74.3 L304.8 74.2 L304.3 72.0ZM283.5 47.4 L284.8 47.0 L284.6 46.0 L283.6 46.2ZM200.0 75.3 L201.0 75.6 L201.2 76.3 L200.2 76.0ZM178.0 13.3 L182.0 11.5 L185.0 13.0 L185.5 13.5 L182.5 13.5ZM182.2 18.0 L183.5 17.5 L184.5 14.5 L186.0 14.0 L186.5 14.8 L188.5 14.7 L190.0 15.5 L187.5 17.0 L185.5 16.5 L184.0 15.8 L183.0 14.5 L182.2 15.5ZM186.5 18.3 L191.0 17.2 L190.5 17.5 L187.5 18.5ZM190.3 16.7 L193.8 16.5 L192.5 16.1 L190.5 16.4ZM153.0 -1.0 L157.0 -1.5 L156.0 -2.0 L153.0 -1.6Z" fill="#b3b3b3" stroke="#000" stroke-width="1.1" vector-effect="non-scaling-stroke" stroke-linejoin="round"/>
</g></g>
<rect x="25.75" y="14.3" width="342" height="114.4" fill="none" stroke="#000" stroke-width="1.4"/>
<path d="M26.50 128.50v4.6M26.50 14.50v-4.6M35.50 128.50v2.1M35.50 14.50v-2.1M44.50 128.50v2.1M44.50 14.50v-2.1M54.50 128.50v4.6M54.50 14.50v-4.6M63.50 128.50v2.1M63.50 14.50v-2.1M73.50 128.50v2.1M73.50 14.50v-2.1M82.50 128.50v4.6M82.50 14.50v-4.6M92.50 128.50v2.1M92.50 14.50v-2.1M101.50 128.50v2.1M101.50 14.50v-2.1M111.50 128.50v4.6M111.50 14.50v-4.6M120.50 128.50v2.1M120.50 14.50v-2.1M130.50 128.50v2.1M130.50 14.50v-2.1M139.50 128.50v4.6M139.50 14.50v-4.6M149.50 128.50v2.1M149.50 14.50v-2.1M158.50 128.50v2.1M158.50 14.50v-2.1M168.50 128.50v4.6M168.50 14.50v-4.6M177.50 128.50v2.1M177.50 14.50v-2.1M187.50 128.50v2.1M187.50 14.50v-2.1M196.50 128.50v4.6M196.50 14.50v-4.6M205.50 128.50v2.1M205.50 14.50v-2.1M215.50 128.50v2.1M215.50 14.50v-2.1M224.50 128.50v4.6M224.50 14.50v-4.6M234.50 128.50v2.1M234.50 14.50v-2.1M243.50 128.50v2.1M243.50 14.50v-2.1M253.50 128.50v4.6M253.50 14.50v-4.6M262.50 128.50v2.1M262.50 14.50v-2.1M272.50 128.50v2.1M272.50 14.50v-2.1M281.50 128.50v4.6M281.50 14.50v-4.6M291.50 128.50v2.1M291.50 14.50v-2.1M300.50 128.50v2.1M300.50 14.50v-2.1M310.50 128.50v4.6M310.50 14.50v-4.6M319.50 128.50v2.1M319.50 14.50v-2.1M329.50 128.50v2.1M329.50 14.50v-2.1M338.50 128.50v4.6M338.50 14.50v-4.6M348.50 128.50v2.1M348.50 14.50v-2.1M357.50 128.50v2.1M357.50 14.50v-2.1M367.50 128.50v4.6M367.50 14.50v-4.6M26.00 14.50h-4.6M367.00 14.50h4.6M26.00 24.50h-2.1M367.00 24.50h2.1M26.00 33.50h-2.1M367.00 33.50h2.1M26.00 43.50h-4.6M367.00 43.50h4.6M26.00 52.50h-2.1M367.00 52.50h2.1M26.00 62.50h-2.1M367.00 62.50h2.1M26.00 71.50h-4.6M367.00 71.50h4.6M26.00 81.50h-2.1M367.00 81.50h2.1M26.00 90.50h-2.1M367.00 90.50h2.1M26.00 100.50h-4.6M367.00 100.50h4.6M26.00 109.50h-2.1M367.00 109.50h2.1M26.00 119.50h-2.1M367.00 119.50h2.1M26.00 128.50h-4.6M367.00 128.50h4.6" stroke="#000" stroke-width="1.2" fill="none"/>
<text x="16.2" y="17.7" text-anchor="end" font-size="8.9">60N</text>
<text x="16.2" y="46.2" text-anchor="end" font-size="8.9">30N</text>
<text x="16.2" y="74.7" text-anchor="end" font-size="8.9">0</text>
<text x="16.2" y="103.2" text-anchor="end" font-size="8.9">30S</text>
<text x="16.2" y="131.7" text-anchor="end" font-size="8.9">60S</text>
<text x="26.0" y="145.4" text-anchor="middle" font-size="8.9">90E</text>
<text x="54.4" y="145.4" text-anchor="middle" font-size="8.9">120E</text>
<text x="82.8" y="145.4" text-anchor="middle" font-size="8.9">150E</text>
<text x="111.2" y="145.4" text-anchor="middle" font-size="8.9">180</text>
<text x="139.7" y="145.4" text-anchor="middle" font-size="8.9">150W</text>
<text x="168.1" y="145.4" text-anchor="middle" font-size="8.9">120W</text>
<text x="196.5" y="145.4" text-anchor="middle" font-size="8.9">90W</text>
<text x="224.9" y="145.4" text-anchor="middle" font-size="8.9">60W</text>
<text x="253.3" y="145.4" text-anchor="middle" font-size="8.9">30W</text>
<text x="281.8" y="145.4" text-anchor="middle" font-size="8.9">0</text>
<text x="310.2" y="145.4" text-anchor="middle" font-size="8.9">30E</text>
<text x="338.6" y="145.4" text-anchor="middle" font-size="8.9">60E</text>
<text x="367.0" y="145.4" text-anchor="middle" font-size="8.9">90E</text>
<text x="27.0" y="10.0" font-size="14">a</text>
<text x="367.3" y="8.7" text-anchor="end" font-size="11.6">HIST-GHG minus HIST</text>
</g>
<path d="M100.90 150.30L91.10 155.25L100.90 160.20Z" fill="#1e14c8" stroke="#000" stroke-width="1"/>
<rect x="100.90" y="150.30" width="9.60" height="9.9" fill="#1a30ea" stroke="#000" stroke-width="1"/>
<rect x="110.50" y="150.30" width="9.60" height="9.9" fill="#2250f6" stroke="#000" stroke-width="1"/>
<rect x="120.10" y="150.30" width="9.60" height="9.9" fill="#2456f8" stroke="#000" stroke-width="1"/>
<rect x="129.70" y="150.30" width="9.60" height="9.9" fill="#3e88fa" stroke="#000" stroke-width="1"/>
<rect x="139.30" y="150.30" width="9.60" height="9.9" fill="#50a8fc" stroke="#000" stroke-width="1"/>
<rect x="148.90" y="150.30" width="9.60" height="9.9" fill="#64c0fc" stroke="#000" stroke-width="1"/>
<rect x="158.50" y="150.30" width="9.60" height="9.9" fill="#96e6fe" stroke="#000" stroke-width="1"/>
<rect x="168.10" y="150.30" width="9.60" height="9.9" fill="#96e6fe" stroke="#000" stroke-width="1"/>
<rect x="177.70" y="150.30" width="9.60" height="9.9" fill="#b4f6fe" stroke="#000" stroke-width="1"/>
<rect x="187.30" y="150.30" width="9.60" height="9.9" fill="#e2fefe" stroke="#000" stroke-width="1"/>
<rect x="196.90" y="150.30" width="9.60" height="9.9" fill="#fffce4" stroke="#000" stroke-width="1"/>
<rect x="206.50" y="150.30" width="9.60" height="9.9" fill="#fff0b6" stroke="#000" stroke-width="1"/>
<rect x="216.10" y="150.30" width="9.60" height="9.9" fill="#ffd898" stroke="#000" stroke-width="1"/>
<rect x="225.70" y="150.30" width="9.60" height="9.9" fill="#ffd494" stroke="#000" stroke-width="1"/>
<rect x="235.30" y="150.30" width="9.60" height="9.9" fill="#ffa466" stroke="#000" stroke-width="1"/>
<rect x="244.90" y="150.30" width="9.60" height="9.9" fill="#ff6a48" stroke="#000" stroke-width="1"/>
<rect x="254.50" y="150.30" width="9.60" height="9.9" fill="#fc4044" stroke="#000" stroke-width="1"/>
<rect x="264.10" y="150.30" width="9.60" height="9.9" fill="#f6303e" stroke="#000" stroke-width="1"/>
<rect x="273.70" y="150.30" width="9.60" height="9.9" fill="#f42c40" stroke="#000" stroke-width="1"/>
<rect x="283.30" y="150.30" width="9.60" height="9.9" fill="#d41a34" stroke="#000" stroke-width="1"/>
<path d="M292.90 150.30L302.70 155.25L292.90 160.20Z" fill="#c40a26" stroke="#000" stroke-width="1"/>
<text x="110.5" y="172.2" text-anchor="middle" font-size="11.6">-1.8</text>
<text x="139.3" y="172.2" text-anchor="middle" font-size="11.6">-1.2</text>
<text x="168.1" y="172.2" text-anchor="middle" font-size="11.6">-0.6</text>
<text x="196.9" y="172.2" text-anchor="middle" font-size="11.6">0</text>
<text x="225.7" y="172.2" text-anchor="middle" font-size="11.6">0.6</text>
<text x="254.5" y="172.2" text-anchor="middle" font-size="11.6">1.2</text>
<text x="283.3" y="172.2" text-anchor="middle" font-size="11.6">1.8</text>
<text x="197" y="185.0" text-anchor="middle" font-size="11.6">SST (<tspan font-size="7.6" dy="-4.2">o</tspan><tspan dy="4.2">C)</tspan></text>
<g transform="translate(0,193.0)">
<g clip-path="url(#clip)">
<rect x="20" y="10" width="360" height="125" fill="#3e88fa"/>
<path d="M20.0 47.0 L30.0 47.0 L45.0 53.0 L56.0 59.0 L66.0 65.0 L80.0 72.0 L95.0 75.5 L115.0 76.0 L140.0 74.0 L160.0 73.0 L185.0 72.0 L205.0 69.0 L215.0 69.0 L240.0 70.0 L265.0 70.0 L290.0 69.0 L305.0 75.0 L320.0 79.0 L335.0 80.5 L350.0 80.0 L372.0 79.0 L372.0 137.0 L20.0 137.0Z" fill="#50a8fc"/>
<path d="M318.0 45.0C320.3 43.3 325.5 42.8 330.0 43.0C334.5 43.2 341.3 44.7 345.0 46.0C348.7 47.3 352.0 49.3 352.0 51.0C352.0 52.7 348.2 55.0 345.0 56.0C341.8 57.0 336.8 56.5 333.0 57.0C329.2 57.5 324.8 59.7 322.0 59.0C319.2 58.3 316.7 55.3 316.0 53.0C315.3 50.7 315.7 46.7 318.0 45.0Z" fill="#50a8fc"/>
<path d="M266.0 63.0 L285.0 62.0 L292.0 69.0 L286.0 77.0 L266.0 77.0Z" fill="#50a8fc"/>
<path d="M146.0 21.0C146.8 19.2 148.3 17.5 150.0 16.0C151.7 14.5 153.5 12.7 156.0 12.0C158.5 11.3 162.7 10.3 165.0 12.0C167.3 13.7 168.5 18.2 170.0 22.0C171.5 25.8 173.0 30.8 174.0 35.0C175.0 39.2 176.7 44.5 176.0 47.0C175.3 49.5 173.0 49.8 170.0 50.0C167.0 50.2 161.8 48.8 158.0 48.5C154.2 48.2 150.5 48.9 147.0 48.5C143.5 48.1 137.7 47.4 137.0 46.0C136.3 44.6 141.6 42.0 143.0 40.0C144.4 38.0 145.2 36.2 145.5 34.0C145.8 31.8 144.9 29.2 145.0 27.0C145.1 24.8 145.2 22.8 146.0 21.0Z" fill="#50a8fc"/>
<path d="M52.0 50.0C55.0 47.8 63.5 50.8 70.0 51.5C76.5 52.2 90.2 52.8 91.0 54.0C91.8 55.2 76.8 57.2 75.0 59.0C73.2 60.8 82.5 63.3 80.0 65.0C77.5 66.7 64.7 69.0 60.0 69.0C55.3 69.0 53.3 68.2 52.0 65.0C50.7 61.8 49.0 52.2 52.0 50.0Z" fill="#50a8fc"/>
<path d="M52.0 41.0C52.8 39.8 56.2 40.1 60.0 40.0C63.8 39.9 74.2 39.7 75.0 40.5C75.8 41.3 68.3 43.9 65.0 45.0C61.7 46.1 57.2 47.7 55.0 47.0C52.8 46.3 51.2 42.2 52.0 41.0Z" fill="#50a8fc"/>
<path d="M70.0 12.0 L93.0 12.0 L93.0 20.0 L86.0 24.0 L78.0 25.0 L72.0 21.0Z" fill="#50a8fc"/>
<path d="M222.0 54.0C224.0 52.8 232.3 52.6 240.0 52.0C247.7 51.4 263.3 49.7 268.0 50.5C272.7 51.3 271.8 55.6 268.0 57.0C264.2 58.4 251.7 58.3 245.0 58.6C238.3 58.9 231.8 59.8 228.0 59.0C224.2 58.2 220.0 55.2 222.0 54.0Z" fill="#50a8fc"/>
<path d="M270.0 32.0 L300.0 29.0 L318.0 35.0 L318.0 43.0 L300.0 43.0 L272.0 41.0Z" fill="#50a8fc"/>
<path d="M194.0 12.0 L212.0 12.0 L212.0 21.0 L200.0 21.0Z" fill="#50a8fc"/>
<path d="M20.0 43.0 L32.0 47.0 L38.0 59.0 L44.0 69.0 L50.0 77.0 L60.0 83.0 L80.0 84.0 L100.0 82.0 L120.0 81.5 L146.0 78.5 L175.0 77.5 L205.0 77.0 L215.0 77.0 L240.0 78.6 L270.0 79.0 L300.0 82.0 L318.0 87.0 L340.0 88.0 L372.0 87.0 L372.0 137.0 L20.0 137.0Z" fill="#64c0fc"/>
<path d="M42.0 49.0C43.3 47.3 47.5 46.7 50.0 47.0C52.5 47.3 55.7 49.0 57.0 51.0C58.3 53.0 58.5 56.7 58.0 59.0C57.5 61.3 56.0 64.3 54.0 65.0C52.0 65.7 48.0 64.3 46.0 63.0C44.0 61.7 42.7 59.3 42.0 57.0C41.3 54.7 40.7 50.7 42.0 49.0Z" fill="#64c0fc"/>
<path d="M186.0 45.0C188.2 43.2 196.2 41.8 200.0 42.0C203.8 42.2 207.8 43.5 209.0 46.0C210.2 48.5 209.3 55.0 207.0 57.0C204.7 59.0 198.3 58.7 195.0 58.0C191.7 57.3 188.5 55.2 187.0 53.0C185.5 50.8 183.8 46.8 186.0 45.0Z" fill="#64c0fc"/>
<path d="M304.0 23.0 L323.0 23.0 L323.0 34.0 L304.0 34.0Z" fill="#64c0fc"/>
<path d="M316.0 38.0 L323.0 38.0 L333.0 59.0 L328.0 63.0 L317.0 47.0Z" fill="#64c0fc"/>
<path d="M358.0 47.0 L372.0 45.0 L372.0 69.0 L360.0 67.0Z" fill="#64c0fc"/>
<path d="M155.0 29.0C155.8 26.8 158.7 23.5 160.0 24.0C161.3 24.5 162.5 29.0 163.0 32.0C163.5 35.0 163.8 39.8 163.0 42.0C162.2 44.2 159.3 45.8 158.0 45.0C156.7 44.2 155.5 39.7 155.0 37.0C154.5 34.3 154.2 31.2 155.0 29.0Z" fill="#64c0fc"/>
<path d="M262.0 36.0C263.7 33.0 269.7 33.2 272.0 35.0C274.3 36.8 276.3 43.3 276.0 47.0C275.7 50.7 272.3 56.0 270.0 57.0C267.7 58.0 263.3 56.5 262.0 53.0C260.7 49.5 260.3 39.0 262.0 36.0Z" fill="#64c0fc"/>
<path d="M20.0 91.0 L40.0 89.0 L60.0 99.0 L80.0 103.0 L100.0 105.0 L115.0 97.0 L130.0 89.0 L150.0 83.5 L175.0 82.5 L200.0 83.5 L212.0 86.0 L230.0 87.0 L250.0 86.5 L275.0 87.0 L296.0 88.0 L300.0 95.0 L320.0 97.0 L340.0 91.0 L355.0 90.0 L372.0 90.0 L372.0 137.0 L20.0 137.0Z" fill="#96e6fe"/>
<path d="M86.0 99.0C87.7 97.5 94.7 96.8 100.0 97.0C105.3 97.2 116.3 98.4 118.0 100.0C119.7 101.6 114.7 105.6 110.0 106.6C105.3 107.6 94.0 107.3 90.0 106.0C86.0 104.7 84.3 100.5 86.0 99.0Z" fill="#64c0fc"/>
<path d="M215.0 12.0 L285.0 12.0 L285.0 32.0 L270.0 39.0 L255.0 39.0 L240.0 35.0 L228.0 31.0 L220.0 23.0Z" fill="#96e6fe"/>
<path d="M227.0 28.0C229.0 26.7 235.8 26.5 240.0 27.0C244.2 27.5 250.3 29.3 252.0 31.0C253.7 32.7 252.3 35.8 250.0 37.0C247.7 38.2 241.7 38.3 238.0 38.0C234.3 37.7 229.8 36.7 228.0 35.0C226.2 33.3 225.0 29.3 227.0 28.0Z" fill="#50a8fc"/>
<path d="M232.0 44.0C233.2 42.2 240.3 41.7 245.0 41.0C249.7 40.3 256.2 39.5 260.0 40.0C263.8 40.5 267.2 42.3 268.0 44.0C268.8 45.7 267.7 48.3 265.0 50.0C262.3 51.7 256.5 53.7 252.0 54.0C247.5 54.3 241.3 53.7 238.0 52.0C234.7 50.3 230.8 45.8 232.0 44.0Z" fill="#96e6fe"/>
<path d="M215.0 103.0 L260.0 101.0 L300.0 100.0 L340.0 103.0 L372.0 104.0 L372.0 116.0 L330.0 117.0 L290.0 116.0 L250.0 116.5 L215.0 115.0Z" fill="#64c0fc"/>
<path d="M224.0 106.0C229.7 104.7 249.0 105.8 260.0 105.5C271.0 105.2 278.3 103.9 290.0 104.0C301.7 104.1 320.8 105.3 330.0 106.0C339.2 106.7 343.3 106.7 345.0 108.0C346.7 109.3 347.5 112.9 340.0 114.0C332.5 115.1 313.3 114.5 300.0 114.5C286.7 114.5 272.3 114.2 260.0 114.0C247.7 113.8 232.0 114.8 226.0 113.5C220.0 112.2 218.3 107.3 224.0 106.0Z" fill="#50a8fc"/>
<path d="M20.0 114.0 L60.0 112.0 L100.0 113.0 L150.0 112.0 L200.0 113.5 L215.0 116.0 L240.0 116.5 L300.0 117.0 L372.0 116.5 L372.0 137.0 L20.0 137.0Z" fill="#b4f6fe"/>
<path d="M47.0 106.6C48.7 105.4 55.5 105.9 60.0 106.0C64.5 106.1 72.3 105.8 74.0 107.0C75.7 108.2 74.0 112.0 70.0 113.0C66.0 114.0 53.8 114.1 50.0 113.0C46.2 111.9 45.3 107.8 47.0 106.6Z" fill="#b4f6fe"/>
<path d="M20.0 120.0 L80.0 119.5 L140.0 120.0 L200.0 119.5 L260.0 119.0 L320.0 119.5 L372.0 119.5 L372.0 137.0 L20.0 137.0Z" fill="#e2fefe"/>
<path d="M166.0 90.0C166.3 88.6 171.7 87.5 176.0 87.5C180.3 87.5 187.0 88.8 192.0 90.0C197.0 91.2 202.5 92.8 206.0 95.0C209.5 97.2 212.7 101.2 213.0 103.0C213.3 104.8 211.5 106.2 208.0 106.0C204.5 105.8 197.7 103.2 192.0 101.5C186.3 99.8 178.3 97.9 174.0 96.0C169.7 94.1 165.7 91.4 166.0 90.0Z" fill="#b4f6fe"/>
<path d="M170.0 90.0C170.8 89.1 176.0 88.7 180.0 89.0C184.0 89.3 189.7 90.7 194.0 92.0C198.3 93.3 203.2 95.2 206.0 97.0C208.8 98.8 211.2 101.8 211.0 103.0C210.8 104.2 208.5 104.5 205.0 104.0C201.5 103.5 195.0 101.6 190.0 100.0C185.0 98.4 178.3 96.2 175.0 94.5C171.7 92.8 169.2 90.9 170.0 90.0Z" fill="#e2fefe"/>
<path d="M238.0 12.0 L262.0 12.0 L267.0 19.0 L263.0 26.0 L250.0 28.0 L241.0 24.0Z" fill="#e2fefe"/>
<path d="M243.0 17.0C243.8 15.8 247.5 15.7 250.0 15.5C252.5 15.3 256.0 15.4 258.0 16.0C260.0 16.6 261.8 17.7 262.0 19.0C262.2 20.3 260.8 23.0 259.0 24.0C257.2 25.0 253.3 25.1 251.0 24.8C248.7 24.6 246.3 23.8 245.0 22.5C243.7 21.2 242.2 18.2 243.0 17.0Z" fill="#fff0b6"/>
<path d="M247.0 17.5C248.2 16.9 252.3 16.7 254.0 17.0C255.7 17.3 257.3 18.8 257.0 19.5C256.7 20.2 253.7 21.3 252.0 21.5C250.3 21.7 247.8 21.2 247.0 20.5C246.2 19.8 245.8 18.1 247.0 17.5Z" fill="#ffd898"/>
<path d="M136.0 123.5 L146.0 122.6 L153.0 125.0 L153.0 130.0 L136.0 130.0Z" fill="#fff0b6"/>
<path d="M50.0 39.0C49.3 36.7 54.0 31.8 56.0 29.0C58.0 26.2 59.3 23.7 62.0 22.0C64.7 20.3 68.0 20.0 72.0 19.0C76.0 18.0 81.3 17.2 86.0 16.0C90.7 14.8 93.8 12.7 100.0 12.0C106.2 11.3 118.3 10.8 123.0 12.0C127.7 13.2 125.8 17.6 128.0 19.0C130.2 20.4 133.3 20.1 136.0 20.5C138.7 20.9 142.2 20.6 144.0 21.5C145.8 22.4 147.0 24.5 147.0 26.0C147.0 27.5 146.2 29.3 144.0 30.5C141.8 31.7 138.3 32.2 134.0 33.0C129.7 33.8 123.7 34.6 118.0 35.0C112.3 35.4 105.3 35.5 100.0 35.5C94.7 35.5 90.7 34.2 86.0 35.0C81.3 35.8 76.3 38.7 72.0 40.0C67.7 41.3 63.7 43.2 60.0 43.0C56.3 42.8 50.7 41.3 50.0 39.0Z" fill="#2456f8"/>
<path d="M62.0 29.0C64.7 27.1 73.7 26.9 80.0 26.5C86.3 26.1 93.7 26.2 100.0 26.5C106.3 26.8 116.0 27.1 118.0 28.0C120.0 28.9 115.0 31.0 112.0 32.0C109.0 33.0 105.3 33.3 100.0 34.0C94.7 34.7 86.0 35.3 80.0 36.0C74.0 36.7 67.0 39.2 64.0 38.0C61.0 36.8 59.3 30.9 62.0 29.0Z" fill="#2250f6"/>
<path d="M61.0 32.0C62.0 30.3 65.0 28.9 67.0 28.0C69.0 27.1 71.7 26.2 73.0 26.5C74.3 26.8 75.3 28.5 75.0 30.0C74.7 31.5 72.7 33.8 71.0 35.5C69.3 37.2 66.7 39.6 65.0 40.0C63.3 40.4 61.7 39.3 61.0 38.0C60.3 36.7 60.0 33.7 61.0 32.0Z" fill="#1a30ea"/>
<path d="M71.0 14.0C72.2 12.2 76.7 12.0 78.0 13.0C79.3 14.0 79.3 17.8 79.0 20.0C78.7 22.2 77.3 25.3 76.0 26.0C74.7 26.7 71.8 26.0 71.0 24.0C70.2 22.0 69.8 15.8 71.0 14.0Z" fill="#50a8fc"/>
<path d="M80.0 29.0C81.3 28.1 87.3 27.5 90.0 27.5C92.7 27.5 95.7 28.2 96.0 29.0C96.3 29.8 94.3 31.8 92.0 32.5C89.7 33.2 84.0 33.6 82.0 33.0C80.0 32.4 78.7 29.9 80.0 29.0Z" fill="#1a30ea"/>
<path d="M146.0 58.5C147.7 57.6 154.0 56.5 158.0 55.5C162.0 54.5 166.0 53.4 170.0 52.5C174.0 51.6 179.7 50.2 182.0 50.2C184.3 50.2 185.7 51.4 184.0 52.5C182.3 53.6 176.0 55.3 172.0 56.5C168.0 57.7 164.0 58.8 160.0 59.5C156.0 60.2 150.3 61.2 148.0 61.0C145.7 60.8 144.3 59.4 146.0 58.5Z" fill="#2456f8"/>
<path d="M173.0 69.0C174.8 68.6 181.3 68.4 185.0 68.5C188.7 68.6 195.0 69.0 195.0 69.5C195.0 70.0 188.5 71.2 185.0 71.5C181.5 71.8 176.0 71.4 174.0 71.0C172.0 70.6 171.2 69.4 173.0 69.0Z" fill="#2456f8"/>
<path d="M206.0 48.0C208.3 47.2 217.3 47.0 220.0 47.5C222.7 48.0 224.3 50.2 222.0 51.0C219.7 51.8 208.7 52.5 206.0 52.0C203.3 51.5 203.7 48.8 206.0 48.0Z" fill="#2456f8"/>
<path d="M217.0 23.6C218.3 23.1 222.8 23.4 223.6 24.0C224.4 24.6 223.3 26.5 222.0 27.0C220.7 27.5 216.8 27.6 216.0 27.0C215.2 26.4 215.7 24.1 217.0 23.6Z" fill="#2456f8"/>
<path d="M228.0 108.5C231.7 107.9 243.0 108.0 250.0 108.0C257.0 108.0 263.3 108.7 270.0 108.5C276.7 108.3 283.3 107.1 290.0 107.0C296.7 106.9 303.3 107.7 310.0 108.0C316.7 108.3 327.0 108.3 330.0 109.0C333.0 109.7 333.0 111.4 328.0 112.0C323.0 112.6 309.7 112.5 300.0 112.5C290.3 112.5 279.2 112.1 270.0 112.0C260.8 111.9 252.0 112.1 245.0 112.0C238.0 111.9 230.8 112.1 228.0 111.5C225.2 110.9 224.3 109.1 228.0 108.5Z" fill="#3e88fa"/>
<path d="M227.0 108.2C228.0 107.5 232.7 107.4 234.0 108.0C235.3 108.6 236.0 111.3 235.0 112.0C234.0 112.7 229.3 112.8 228.0 112.2C226.7 111.6 226.0 108.9 227.0 108.2Z" fill="#2456f8"/>
<path d="M258.0 108.5C259.7 108.0 266.3 107.8 268.0 108.2C269.7 108.6 269.7 110.5 268.0 111.0C266.3 111.5 259.7 111.9 258.0 111.5C256.3 111.1 256.3 109.0 258.0 108.5Z" fill="#2456f8"/>
<path d="M287.0 107.6C289.0 107.0 298.2 106.9 300.0 107.5C301.8 108.1 300.0 110.4 298.0 111.0C296.0 111.6 289.8 111.6 288.0 111.0C286.2 110.4 285.0 108.2 287.0 107.6Z" fill="#2456f8"/>
<path d="M314.0 109.0C315.5 108.5 321.7 108.5 323.0 109.0C324.3 109.5 323.5 111.5 322.0 112.0C320.5 112.5 315.3 112.5 314.0 112.0C312.7 111.5 312.5 109.5 314.0 109.0Z" fill="#2456f8"/>
<path d="M78.5 106.5C79.4 105.3 83.9 105.4 85.5 106.0C87.1 106.6 88.1 108.5 88.0 110.0C87.9 111.5 86.3 114.5 85.0 115.0C83.7 115.5 81.1 114.4 80.0 113.0C78.9 111.6 77.6 107.7 78.5 106.5Z" fill="#2456f8"/>
<path d="M80.5 108.0C80.9 107.2 83.7 107.4 84.5 107.8C85.3 108.2 85.9 109.7 85.5 110.5C85.1 111.3 82.8 112.9 82.0 112.5C81.2 112.1 80.1 108.8 80.5 108.0Z" fill="#2250f6"/>
<path d="M283.0 36.0C284.5 35.0 292.5 34.7 296.0 35.0C299.5 35.3 303.7 37.0 304.0 38.0C304.3 39.0 300.8 40.5 298.0 41.0C295.2 41.5 289.5 41.8 287.0 41.0C284.5 40.2 281.5 37.0 283.0 36.0Z" fill="#3e88fa"/>
<path d="M324.0 23.0 L335.0 23.0 L335.0 38.0 L324.0 38.0Z" fill="#2456f8"/>
<path d="M329.0 31.0 L334.0 31.0 L334.0 39.0 L329.0 39.0Z" fill="#50a8fc"/>
<path d="M290.0 12.0 L314.0 12.0 L314.0 23.0 L290.0 23.0Z" fill="#b3b3b3"/>
<path d="M297.0 14.5 L302.5 14.5 L302.5 19.0 L298.0 20.0Z" fill="#2250f6"/>
<path d="M177.0 89.0C177.7 87.8 186.2 88.5 190.0 89.0C193.8 89.5 197.2 90.8 200.0 92.0C202.8 93.2 205.8 94.0 207.0 96.0C208.2 98.0 208.5 102.9 207.0 104.0C205.5 105.1 201.5 103.8 198.0 102.5C194.5 101.2 189.5 98.2 186.0 96.0C182.5 93.8 176.3 90.2 177.0 89.0Z" fill="url(#dots)"/>
<path d="M26.0 122.5 L100.0 122.5 L100.0 128.5 L26.0 128.5Z" fill="url(#dots)"/>
<path d="M110.0 122.5 L182.0 122.5 L182.0 128.5 L110.0 128.5Z" fill="url(#dots)"/>
<path d="M146.0 120.0 L180.0 120.0 L180.0 123.0 L146.0 123.0Z" fill="url(#dots)"/>
<path d="M200.0 122.5 L222.0 122.5 L222.0 128.5 L200.0 128.5Z" fill="url(#dots)"/>
<path d="M238.0 120.5 L298.0 120.5 L298.0 128.5 L238.0 128.5Z" fill="url(#dots)"/>
<path d="M354.0 120.5 L366.0 120.5 L366.0 128.5 L354.0 128.5Z" fill="url(#dots)"/>
<path d="M204.0 89.0 L212.0 91.0 L212.0 97.0 L206.0 95.0Z" fill="url(#dots)"/>
<g transform="translate(26.0,14.5) scale(0.947222,0.950000)">
<path d="M-95.6 24.0 L-96.3 23.2 L-97.4 22.8 L-98.9 23.0 L-98.8 21.8 L-99.5 21.2 L-99.3 20.2 L-98.8 18.1 L-99.3 17.0 L-98.0 16.3 L-95.5 16.5 L-92.0 16.6 L-91.5 16.4 L-91.2 14.5 L-92.2 12.8 L-94.7 11.6 L-93.0 11.2 L-91.6 11.3 L-91.4 10.3 L-89.8 10.5 L-88.5 9.8 L-87.5 8.9 L-86.4 8.5 L-85.4 7.5 L-85.1 6.8 L-83.5 6.5 L-81.5 6.3 L-81.3 5.0 L-81.9 3.5 L-81.4 2.9 L-79.5 2.3 L-79.6 3.5 L-79.2 4.7 L-80.1 5.2 L-79.0 6.0 L-77.0 5.7 L-75.5 6.1 L-73.5 5.5 L-71.5 5.2 L-70.4 5.6 L-68.8 4.8 L-69.0 3.5 L-68.3 2.5 L-67.4 2.3 L-66.5 3.0 L-65.7 2.8 L-65.6 1.7 L-66.5 1.1 L-65.5 0.5 L-63.5 0.5 L-62.0 0.5 L-59.8 0.1 L-61.0 -0.5 L-63.5 -0.5 L-67.0 0.1 L-68.5 -0.6 L-71.5 -0.3 L-71.1 0.2 L-71.8 0.7 L-72.5 1.3 L-73.4 2.1 L-73.6 3.4 L-74.5 3.9 L-75.7 4.5 L-77.1 4.6 L-77.4 3.8 L-78.1 2.4 L-78.9 1.0 L-79.4 0.2 L-79.8 0.9 L-80.7 1.3 L-82.0 1.9 L-83.4 1.9 L-84.4 1.2 L-84.8 0.5 L-85.1 -0.5 L-85.0 -2.0 L-70.0 -10.0 L10.0 -15.0 L90.0 -8.0 L100.0 -6.0 L92.0 -4.5 L89.0 -2.5 L84.0 -1.7 L80.5 0.0 L76.0 0.2 L73.5 1.0 L72.8 2.0 L73.3 3.9 L71.8 4.8 L70.1 6.0 L68.6 7.1 L67.5 8.4 L66.7 9.1 L66.3 7.5 L65.9 4.5 L66.8 2.5 L68.3 2.0 L70.2 0.6 L72.0 -0.5 L73.5 -2.0 L70.5 -1.8 L68.0 -1.5 L65.0 0.8 L62.0 1.0 L59.0 0.5 L56.0 0.7 L53.3 0.7 L51.0 1.5 L48.5 3.5 L47.0 5.3 L48.5 5.8 L50.3 6.2 L51.4 6.8 L50.6 8.5 L50.4 10.5 L50.0 12.0 L48.5 13.0 L46.0 15.8 L43.5 17.2 L42.0 16.8 L40.7 17.7 L39.7 19.1 L38.5 20.0 L37.5 20.5 L38.5 21.7 L39.4 23.0 L39.4 24.5 L39.0 24.9 L37.5 25.4 L36.4 25.6 L36.4 24.7 L36.8 23.5 L36.5 22.5 L35.3 22.2 L35.0 21.4 L35.3 20.5 L34.3 20.1 L32.9 20.4 L31.2 21.2 L32.2 19.6 L31.0 19.2 L29.5 20.1 L28.0 20.9 L27.7 21.6 L28.8 22.5 L29.8 22.8 L31.0 22.4 L32.6 22.6 L32.0 23.1 L30.5 23.8 L29.3 25.1 L30.3 25.8 L31.0 27.5 L31.9 28.3 L31.9 29.1 L31.5 29.5 L32.0 30.2 L31.5 31.5 L30.5 32.8 L29.6 33.8 L28.8 35.2 L27.5 36.3 L26.0 37.2 L24.3 37.7 L23.5 37.5 L22.0 38.3 L20.5 38.8 L20.2 39.7 L19.7 39.1 L19.7 38.5 L18.0 38.5 L16.8 39.3 L16.0 40.2 L15.7 41.2 L16.6 42.7 L18.2 44.0 L19.0 45.5 L19.3 47.5 L18.9 48.7 L17.0 49.6 L15.5 50.8 L14.8 51.4 L15.0 50.1 L14.5 49.5 L13.3 49.1 L12.6 47.8 L11.0 47.3 L10.2 46.7 L10.0 47.8 L9.2 49.8 L10.2 51.6 L10.6 52.8 L11.6 53.2 L12.5 54.0 L13.4 55.5 L13.5 57.2 L14.3 58.6 L13.5 58.7 L12.5 58.0 L11.3 57.1 L10.4 55.5 L10.3 54.0 L9.5 53.0 L8.3 52.0 L8.6 50.0 L8.5 47.5 L7.7 44.5 L7.3 43.2 L6.2 43.2 L5.3 44.2 L4.3 44.0 L4.5 42.5 L3.6 40.8 L2.3 39.2 L1.8 37.7 L0.6 37.5 L-1.0 38.2 L-3.0 38.5 L-3.5 39.8 L-5.0 40.7 L-6.5 42.0 L-7.7 43.3 L-9.1 44.2 L-9.9 46.4 L-10.2 48.8 L-11.0 49.8 L-11.8 51.1 L-12.5 51.9 L-13.5 51.1 L-14.2 48.8 L-15.3 47.0 L-16.2 44.5 L-17.0 42.0 L-17.2 40.5 L-17.4 38.7 L-18.0 38.8 L-19.5 39.2 L-21.0 37.8 L-19.7 37.1 L-21.4 36.7 L-22.7 35.8 L-23.4 34.6 L-26.0 34.7 L-28.5 34.9 L-31.0 34.6 L-32.7 34.2 L-33.7 32.9 L-35.5 33.4 L-37.5 32.5 L-39.0 31.2 L-40.0 29.9 L-41.4 30.0 L-42.0 30.7 L-41.4 32.0 L-40.4 33.2 L-39.8 34.2 L-39.3 35.0 L-38.8 33.9 L-38.4 34.8 L-38.4 35.7 L-37.0 35.9 L-35.5 35.7 L-34.2 34.6 L-33.7 33.7 L-33.6 35.1 L-32.7 36.1 L-31.3 36.4 L-30.2 37.5 L-31.2 39.1 L-32.2 40.8 L-33.2 41.4 L-34.7 42.4 L-36.5 43.3 L-37.8 44.4 L-40.5 45.4 L-42.0 46.0 L-44.5 47.0 L-46.5 47.3 L-47.2 45.2 L-47.4 43.4 L-48.8 41.2 L-50.2 39.5 L-50.9 38.0 L-51.8 36.0 L-52.9 34.4 L-54.4 32.4 L-55.2 31.1 L-55.1 30.5 L-55.7 32.0 L-56.8 31.4 L-57.4 30.1 L-57.7 28.8 L-55.8 28.7 L-55.1 27.5 L-54.4 25.6 L-54.1 24.5 L-53.8 23.4 L-54.5 23.4 L-55.8 23.8 L-57.2 23.9 L-59.2 23.2 L-60.5 23.8 L-62.4 23.2 L-62.7 22.5 L-63.7 21.7 L-63.1 20.9 L-63.8 20.4 L-63.6 19.7 L-62.5 19.5 L-61.0 19.2 L-61.0 18.8 L-63.9 19.4 L-66.0 19.2 L-67.0 19.5 L-67.3 19.5 L-67.4 20.4 L-66.7 21.0 L-67.5 21.7 L-66.0 21.8 L-66.9 22.1 L-67.2 23.5 L-68.3 23.2 L-68.9 22.2 L-68.4 21.6 L-69.3 21.1 L-70.0 20.3 L-70.6 19.5 L-70.5 18.2 L-71.5 17.5 L-73.0 16.8 L-74.5 16.1 L-75.7 14.8 L-76.4 14.9 L-76.3 14.3 L-77.7 14.7 L-77.6 15.7 L-76.4 16.5 L-75.3 18.0 L-73.8 18.3 L-72.0 19.4 L-71.5 19.9 L-72.9 19.5 L-73.5 20.3 L-72.9 21.1 L-74.0 22.1 L-74.4 21.7 L-74.0 20.5 L-75.1 19.7 L-76.0 19.1 L-77.4 18.6 L-78.8 17.6 L-79.5 17.0 L-79.8 16.1 L-81.2 15.6 L-82.5 16.2 L-84.0 16.9 L-85.2 16.6 L-86.8 16.8 L-86.8 18.1 L-88.0 18.8 L-89.2 19.4 L-90.3 20.6 L-89.8 21.3 L-90.6 22.4 L-92.0 23.3 L-94.4 23.3ZM264.4 24.0 L263.7 23.2 L262.6 22.8 L261.1 23.0 L261.2 21.8 L260.5 21.2 L260.7 20.2 L261.2 18.1 L260.7 17.0 L262.0 16.3 L264.5 16.5 L268.0 16.6 L268.5 16.4 L268.8 14.5 L267.8 12.8 L265.3 11.6 L267.0 11.2 L268.4 11.3 L268.6 10.3 L270.2 10.5 L271.5 9.8 L272.5 8.9 L273.6 8.5 L274.6 7.5 L274.9 6.8 L276.5 6.5 L278.5 6.3 L278.7 5.0 L278.1 3.5 L278.6 2.9 L280.5 2.3 L280.4 3.5 L280.8 4.7 L279.9 5.2 L281.0 6.0 L283.0 5.7 L284.5 6.1 L286.5 5.5 L288.5 5.2 L289.6 5.6 L291.2 4.8 L291.0 3.5 L291.7 2.5 L292.6 2.3 L293.5 3.0 L294.3 2.8 L294.4 1.7 L293.5 1.1 L294.5 0.5 L296.5 0.5 L298.0 0.5 L300.2 0.1 L299.0 -0.5 L296.5 -0.5 L293.0 0.1 L291.5 -0.6 L288.5 -0.3 L288.9 0.2 L288.2 0.7 L287.5 1.3 L286.6 2.1 L286.4 3.4 L285.5 3.9 L284.3 4.5 L282.9 4.6 L282.6 3.8 L281.9 2.4 L281.1 1.0 L280.6 0.2 L280.2 0.9 L279.3 1.3 L278.0 1.9 L276.6 1.9 L275.6 1.2 L275.2 0.5 L274.9 -0.5 L275.0 -2.0 L290.0 -10.0 L370.0 -15.0 L450.0 -8.0 L460.0 -6.0 L452.0 -4.5 L449.0 -2.5 L444.0 -1.7 L440.5 0.0 L436.0 0.2 L433.5 1.0 L432.8 2.0 L433.3 3.9 L431.8 4.8 L430.1 6.0 L428.6 7.1 L427.5 8.4 L426.7 9.1 L426.3 7.5 L425.9 4.5 L426.8 2.5 L428.3 2.0 L430.2 0.6 L432.0 -0.5 L433.5 -2.0 L430.5 -1.8 L428.0 -1.5 L425.0 0.8 L422.0 1.0 L419.0 0.5 L416.0 0.7 L413.3 0.7 L411.0 1.5 L408.5 3.5 L407.0 5.3 L408.5 5.8 L410.3 6.2 L411.4 6.8 L410.6 8.5 L410.4 10.5 L410.0 12.0 L408.5 13.0 L406.0 15.8 L403.5 17.2 L402.0 16.8 L400.7 17.7 L399.7 19.1 L398.5 20.0 L397.5 20.5 L398.5 21.7 L399.4 23.0 L399.4 24.5 L399.0 24.9 L397.5 25.4 L396.4 25.6 L396.4 24.7 L396.8 23.5 L396.5 22.5 L395.3 22.2 L395.0 21.4 L395.3 20.5 L394.3 20.1 L392.9 20.4 L391.2 21.2 L392.2 19.6 L391.0 19.2 L389.5 20.1 L388.0 20.9 L387.7 21.6 L388.8 22.5 L389.8 22.8 L391.0 22.4 L392.6 22.6 L392.0 23.1 L390.5 23.8 L389.3 25.1 L390.3 25.8 L391.0 27.5 L391.9 28.3 L391.9 29.1 L391.5 29.5 L392.0 30.2 L391.5 31.5 L390.5 32.8 L389.6 33.8 L388.8 35.2 L387.5 36.3 L386.0 37.2 L384.3 37.7 L383.5 37.5 L382.0 38.3 L380.5 38.8 L380.2 39.7 L379.7 39.1 L379.7 38.5 L378.0 38.5 L376.8 39.3 L376.0 40.2 L375.7 41.2 L376.6 42.7 L378.2 44.0 L379.0 45.5 L379.3 47.5 L378.9 48.7 L377.0 49.6 L375.5 50.8 L374.8 51.4 L375.0 50.1 L374.5 49.5 L373.3 49.1 L372.6 47.8 L371.0 47.3 L370.2 46.7 L370.0 47.8 L369.2 49.8 L370.2 51.6 L370.6 52.8 L371.6 53.2 L372.5 54.0 L373.4 55.5 L373.5 57.2 L374.3 58.6 L373.5 58.7 L372.5 58.0 L371.3 57.1 L370.4 55.5 L370.3 54.0 L369.5 53.0 L368.3 52.0 L368.6 50.0 L368.5 47.5 L367.7 44.5 L367.3 43.2 L366.2 43.2 L365.3 44.2 L364.3 44.0 L364.5 42.5 L363.6 40.8 L362.3 39.2 L361.8 37.7 L360.6 37.5 L359.0 38.2 L357.0 38.5 L356.5 39.8 L355.0 40.7 L353.5 42.0 L352.3 43.3 L350.9 44.2 L350.1 46.4 L349.8 48.8 L349.0 49.8 L348.2 51.1 L347.5 51.9 L346.5 51.1 L345.8 48.8 L344.7 47.0 L343.8 44.5 L343.0 42.0 L342.8 40.5 L342.6 38.7 L342.0 38.8 L340.5 39.2 L339.0 37.8 L340.3 37.1 L338.6 36.7 L337.3 35.8 L336.6 34.6 L334.0 34.7 L331.5 34.9 L329.0 34.6 L327.3 34.2 L326.3 32.9 L324.5 33.4 L322.5 32.5 L321.0 31.2 L320.0 29.9 L318.6 30.0 L318.0 30.7 L318.6 32.0 L319.6 33.2 L320.2 34.2 L320.7 35.0 L321.2 33.9 L321.6 34.8 L321.6 35.7 L323.0 35.9 L324.5 35.7 L325.8 34.6 L326.3 33.7 L326.4 35.1 L327.3 36.1 L328.7 36.4 L329.8 37.5 L328.8 39.1 L327.8 40.8 L326.8 41.4 L325.3 42.4 L323.5 43.3 L322.2 44.4 L319.5 45.4 L318.0 46.0 L315.5 47.0 L313.5 47.3 L312.8 45.2 L312.6 43.4 L311.2 41.2 L309.8 39.5 L309.1 38.0 L308.2 36.0 L307.1 34.4 L305.6 32.4 L304.8 31.1 L304.9 30.5 L304.3 32.0 L303.2 31.4 L302.6 30.1 L302.3 28.8 L304.2 28.7 L304.9 27.5 L305.6 25.6 L305.9 24.5 L306.2 23.4 L305.5 23.4 L304.2 23.8 L302.8 23.9 L300.8 23.2 L299.5 23.8 L297.6 23.2 L297.3 22.5 L296.3 21.7 L296.9 20.9 L296.2 20.4 L296.4 19.7 L297.5 19.5 L299.0 19.2 L299.0 18.8 L296.1 19.4 L294.0 19.2 L293.0 19.5 L292.7 19.5 L292.6 20.4 L293.3 21.0 L292.5 21.7 L294.0 21.8 L293.1 22.1 L292.8 23.5 L291.7 23.2 L291.1 22.2 L291.6 21.6 L290.7 21.1 L290.0 20.3 L289.4 19.5 L289.5 18.2 L288.5 17.5 L287.0 16.8 L285.5 16.1 L284.3 14.8 L283.6 14.9 L283.7 14.3 L282.3 14.7 L282.4 15.7 L283.6 16.5 L284.7 18.0 L286.2 18.3 L288.0 19.4 L288.5 19.9 L287.1 19.5 L286.5 20.3 L287.1 21.1 L286.0 22.1 L285.6 21.7 L286.0 20.5 L284.9 19.7 L284.0 19.1 L282.6 18.6 L281.2 17.6 L280.5 17.0 L280.2 16.1 L278.8 15.6 L277.5 16.2 L276.0 16.9 L274.8 16.6 L273.2 16.8 L273.2 18.1 L272.0 18.8 L270.8 19.4 L269.7 20.6 L270.2 21.3 L269.4 22.4 L268.0 23.3 L265.6 23.3ZM264.1 24.2 L263.7 25.0 L263.2 26.0 L261.5 26.7 L260.7 27.7 L260.2 29.4 L259.5 30.9 L258.5 31.9 L257.0 32.4 L255.5 33.9 L254.5 35.5 L253.8 36.5 L253.0 38.7 L253.5 40.4 L253.9 42.0 L253.5 44.0 L252.8 45.2 L253.2 46.5 L253.2 47.7 L254.5 48.6 L255.4 49.6 L256.7 50.8 L257.5 52.3 L258.7 53.2 L260.2 54.4 L262.4 55.6 L264.5 54.9 L267.0 54.9 L268.0 55.2 L270.5 54.2 L272.5 53.7 L274.5 53.7 L275.6 55.0 L276.5 55.7 L278.0 55.5 L279.0 56.0 L279.8 57.2 L279.4 59.0 L279.0 60.7 L280.0 62.0 L281.5 63.8 L282.3 65.5 L283.0 67.5 L283.4 69.3 L283.8 70.8 L282.5 73.6 L281.8 76.0 L281.8 77.5 L282.5 79.0 L283.5 81.0 L284.5 82.5 L284.8 85.0 L285.2 86.7 L286.5 88.6 L287.3 90.5 L288.2 92.3 L288.4 94.0 L289.5 94.6 L290.0 94.8 L292.0 94.0 L294.0 94.1 L295.7 94.0 L297.0 93.4 L298.5 92.3 L300.3 90.8 L301.5 89.0 L302.5 87.5 L302.8 85.9 L303.5 85.4 L305.3 84.3 L305.5 82.0 L305.0 80.3 L306.5 78.8 L308.0 77.4 L309.8 76.2 L310.6 74.8 L310.5 72.0 L310.4 70.3 L309.5 68.8 L309.3 67.0 L308.8 66.0 L309.2 64.6 L310.2 62.8 L311.5 61.8 L313.0 60.0 L314.5 58.5 L316.0 57.5 L317.8 55.5 L319.0 53.5 L320.0 52.0 L320.8 50.0 L321.3 48.2 L320.5 48.2 L318.5 48.8 L316.5 49.2 L315.0 49.6 L314.0 49.5 L313.3 48.5 L313.2 47.6 L312.6 46.8 L311.6 46.0 L310.7 45.0 L309.6 44.5 L309.1 43.5 L308.5 42.0 L307.4 41.2 L307.3 39.5 L306.9 38.0 L305.6 36.8 L305.4 35.9 L304.6 34.2 L304.0 33.0 L303.5 32.2 L302.6 30.2 L302.3 28.8 L301.0 28.4 L300.0 28.7 L299.0 29.1 L297.5 28.7 L295.2 28.4 L294.0 28.0 L293.0 27.4 L291.6 27.1 L290.1 27.7 L289.9 29.0 L289.0 29.7 L288.0 29.2 L286.0 28.7 L285.2 27.7 L283.0 27.1 L281.5 26.9 L280.5 26.4 L280.2 25.7 L281.0 24.7 L280.5 23.8 L281.0 23.0 L280.2 22.8 L279.5 22.7 L278.0 23.1 L276.0 23.0 L274.5 23.1 L273.0 23.2 L271.0 23.5 L269.5 24.2 L267.8 24.9 L266.5 24.7 L264.7 24.1ZM319.3 72.0 L320.4 75.5 L319.5 77.5 L318.7 80.0 L317.5 84.5 L315.2 85.5 L314.0 84.8 L313.3 82.0 L314.4 79.5 L314.0 77.0 L316.5 75.5 L318.0 73.7ZM104.0 -8.0 L105.0 -1.5 L105.5 -0.5 L107.5 0.1 L108.0 1.3 L110.0 1.4 L112.0 1.3 L113.0 1.7 L111.5 3.1 L109.5 4.0 L107.5 4.7 L105.2 5.5 L107.0 5.3 L109.0 4.7 L111.0 4.3 L112.5 3.5 L114.0 2.7 L115.5 1.7 L116.5 0.8 L118.2 0.9 L119.0 0.2 L120.5 0.1 L122.0 -0.2 L123.5 -0.8 L125.5 -0.1 L128.0 0.0 L130.0 0.3 L131.5 1.0 L133.0 1.7 L133.8 2.2 L135.0 3.2 L136.0 4.0 L137.0 5.0 L138.5 5.5 L139.7 5.7 L140.0 7.0 L141.5 8.0 L142.5 9.2 L141.7 9.2 L144.0 10.8 L145.4 11.6 L145.3 11.8 L145.9 13.1 L146.0 15.5 L145.5 17.2 L145.9 18.5 L145.6 19.6 L146.2 20.5 L147.0 22.0 L147.5 22.5 L148.1 23.4 L148.5 24.1 L149.3 25.0 L149.4 25.5 L150.5 25.6 L151.5 26.0 L152.4 26.6 L152.9 27.5 L153.4 28.4 L153.9 29.5 L154.3 30.2 L155.0 31.3 L155.9 32.0 L155.7 32.8 L157.0 33.5 L157.8 34.7 L158.8 35.8 L160.0 37.1 L160.5 36.7 L159.7 35.7 L159.3 35.1 L158.7 34.1 L158.0 33.0 L157.2 31.8 L156.5 30.7 L155.5 29.7 L155.2 28.4 L156.5 28.7 L157.2 30.0 L158.0 31.1 L159.0 32.1 L160.2 33.3 L161.0 34.4 L162.5 35.5 L163.6 36.8 L164.5 38.0 L164.4 39.5 L164.8 40.1 L165.7 40.9 L166.5 41.7 L168.0 42.1 L170.0 43.1 L171.5 43.7 L173.5 44.3 L175.0 43.8 L176.0 43.9 L177.0 44.4 L177.8 45.4 L179.0 46.1 L180.5 46.5 L182.0 46.8 L182.6 47.1 L183.5 47.8 L184.2 48.8 L184.2 49.7 L184.8 50.2 L185.5 50.5 L186.3 51.4 L187.1 51.9 L188.5 52.3 L189.6 52.6 L190.0 52.0 L190.5 51.1 L191.5 51.4 L192.0 52.5 L192.6 53.0 L192.7 52.0 L192.5 51.3 L191.5 50.6 L190.4 50.4 L189.5 50.9 L188.5 51.2 L187.5 50.6 L186.6 49.6 L186.3 48.5 L186.5 47.3 L186.6 45.7 L186.8 45.0 L185.5 44.1 L184.0 44.1 L182.4 44.2 L181.7 43.8 L181.8 42.5 L182.2 41.5 L182.5 40.2 L183.2 38.8 L182.5 38.5 L181.5 38.5 L179.7 38.9 L179.5 40.0 L179.2 40.8 L178.2 41.4 L177.0 41.5 L175.5 41.9 L174.5 41.3 L173.5 40.5 L172.8 39.3 L172.3 38.2 L172.2 37.0 L172.4 35.5 L172.8 34.2 L172.6 32.8 L173.0 32.0 L174.0 31.4 L175.0 30.8 L176.0 30.3 L177.5 30.4 L178.5 30.7 L179.5 30.9 L180.6 31.0 L180.6 29.9 L181.5 29.6 L182.5 29.7 L183.5 29.6 L184.7 30.3 L185.7 30.0 L186.5 30.6 L187.5 30.2 L188.6 29.5 L188.8 28.3 L189.5 27.7 L190.5 27.0 L191.4 26.2 L192.3 25.7 L193.4 25.3 L194.5 24.8 L194.2 23.8 L194.0 23.1 L194.3 22.5 L194.8 21.7 L195.0 21.1 L195.6 20.6 L196.0 19.8 L196.1 19.4 L197.5 19.0 L198.5 18.6 L199.4 18.4 L200.0 18.2 L199.5 17.8 L199.2 17.1 L199.8 16.3 L201.0 15.9 L202.5 15.5 L203.0 15.1 L204.0 14.7 L205.2 14.5 L203.8 15.8 L204.5 16.4 L206.0 15.6 L207.5 15.2 L209.0 14.7 L210.0 14.3 L209.7 13.5 L209.4 13.0 L208.5 13.8 L207.5 14.3 L206.0 14.0 L205.3 13.0 L204.5 12.2 L205.7 11.5 L205.5 11.0 L203.7 10.9 L202.0 11.5 L200.5 12.2 L201.5 10.9 L203.0 10.5 L205.0 9.8 L207.0 9.7 L209.5 9.8 L211.5 9.0 L212.8 8.5 L214.2 7.7 L213.8 6.5 L212.5 5.7 L210.5 4.8 L209.0 4.0 L208.2 3.0 L207.5 2.0 L206.0 1.0 L205.5 -0.3 L205.0 -1.0 L170.0 -6.0ZM192.6 53.0 L192.4 54.0 L192.7 56.0 L192.0 57.5 L191.1 58.6 L190.0 59.2 L189.9 60.5 L189.1 61.2 L189.7 62.5 L190.0 63.2 L188.8 64.3 L189.0 65.6 L190.1 66.8 L191.0 68.2 L192.0 70.0 L193.0 72.0 L193.8 73.8 L195.0 75.5 L197.0 76.6 L198.5 77.5 L199.7 78.4 L199.9 80.5 L199.6 83.3 L199.4 85.5 L199.0 87.8 L198.5 90.0 L198.4 92.5 L197.9 94.5 L197.2 96.0 L196.5 97.5 L196.7 99.5 L196.3 101.0 L196.2 102.5 L196.4 104.0 L195.4 105.5 L194.5 106.8 L195.0 108.5 L194.5 110.5 L195.0 112.0 L196.5 113.3 L198.5 114.0 L200.5 115.2 L202.5 115.7 L204.0 115.0 L204.8 114.7 L203.5 114.4 L202.2 113.5 L201.6 112.5 L200.8 111.8 L201.0 110.8 L201.8 110.0 L202.3 109.0 L204.0 107.8 L202.7 106.5 L202.5 105.8 L204.0 105.0 L204.8 104.5 L205.2 102.8 L206.3 102.6 L205.5 102.0 L205.0 101.0 L206.5 101.1 L207.8 100.5 L207.8 99.0 L209.0 98.9 L211.0 98.7 L212.4 98.0 L213.0 97.0 L213.3 96.3 L212.7 95.4 L211.6 94.4 L212.5 94.4 L214.0 94.9 L215.5 94.6 L216.5 93.7 L217.5 92.5 L218.7 91.0 L219.7 90.0 L221.0 88.5 L221.5 87.0 L221.5 85.7 L222.5 84.8 L224.0 84.0 L225.5 83.2 L227.0 83.0 L228.1 82.9 L229.0 82.0 L229.5 80.8 L230.3 79.3 L230.8 77.6 L231.0 75.5 L231.0 73.8 L231.6 72.9 L232.5 71.5 L233.7 70.3 L234.7 69.0 L235.1 67.5 L235.0 66.0 L234.5 65.2 L232.8 64.7 L231.5 63.7 L230.2 62.8 L228.5 62.8 L226.5 62.4 L225.5 62.5 L224.5 61.5 L223.0 60.7 L221.5 61.0 L220.5 60.2 L219.5 59.5 L219.0 58.2 L218.5 56.2 L217.2 54.7 L216.0 54.2 L214.5 54.0 L213.0 54.0 L211.7 53.2 L210.5 52.0 L209.5 51.4 L208.4 50.3 L207.5 49.5 L206.0 49.4 L204.5 49.8 L203.5 49.4 L201.8 49.5 L201.2 48.6 L200.0 48.4 L199.8 47.9 L199.2 48.8 L198.4 49.2 L198.0 48.4 L198.5 47.6 L197.7 48.2 L196.8 48.7 L195.5 49.0 L194.5 49.6 L194.2 50.7 L193.5 51.4 L192.7 52.0ZM24.0 81.8 L23.4 84.5 L24.0 86.0 L24.9 89.0 L25.0 90.5 L25.7 92.0 L25.0 93.5 L25.0 94.3 L26.5 95.0 L28.0 95.0 L30.0 93.9 L32.0 93.9 L34.0 93.0 L36.0 92.3 L39.0 91.7 L41.0 91.5 L43.0 92.1 L44.3 93.0 L45.6 94.9 L46.0 93.8 L47.8 93.0 L47.5 94.5 L48.0 95.6 L48.5 94.8 L49.5 95.9 L50.0 97.4 L51.5 98.4 L53.5 98.8 L54.9 97.9 L56.4 99.1 L57.9 97.9 L59.9 97.5 L60.1 96.0 L61.2 93.9 L62.5 92.3 L63.1 90.3 L63.6 88.6 L63.1 87.0 L63.1 85.5 L62.0 84.5 L60.8 82.5 L59.0 81.0 L58.0 80.0 L56.3 78.8 L55.5 76.0 L55.3 74.9 L53.5 74.0 L53.0 71.6 L52.5 70.7 L52.0 72.5 L51.6 75.0 L51.4 76.5 L50.7 77.5 L49.5 77.4 L47.8 76.2 L46.7 75.8 L45.5 74.8 L46.0 73.5 L46.8 72.2 L46.0 72.0 L43.0 71.5 L42.6 71.3 L41.0 72.2 L40.0 73.2 L39.6 74.9 L38.2 75.0 L37.0 74.0 L35.8 74.5 L34.5 75.5 L33.5 76.6 L32.2 77.9 L31.0 79.5 L29.0 80.0 L27.0 80.6 L25.5 81.0ZM30.6 41.5 L32.2 41.5 L32.1 43.0 L31.6 44.1 L31.6 45.8 L33.0 46.2 L34.1 47.1 L33.5 47.3 L32.6 46.7 L31.7 46.1 L30.9 46.1 L30.6 45.5 L30.0 45.2 L29.8 43.8 L30.4 43.5ZM32.0 53.1 L32.2 52.1 L33.7 52.0 L34.7 51.1 L35.5 50.2 L36.6 52.7 L36.2 53.7 L35.4 54.4 L34.0 53.7ZM19.0 58.2 L19.6 58.0 L21.0 58.4 L21.8 57.2 L23.0 56.8 L24.0 55.5 L25.0 55.0 L26.0 54.0 L27.0 53.0 L27.7 54.0 L29.2 54.6 L28.3 55.1 L27.7 55.8 L27.9 59.0 L29.0 59.1 L27.5 60.5 L26.6 61.5 L26.3 63.5 L24.5 64.0 L23.0 63.2 L21.7 63.0 L20.2 62.9 L20.0 61.5 L19.0 60.0ZM41.0 61.3 L42.5 60.4 L44.0 60.9 L44.2 62.5 L45.5 63.4 L47.0 61.5 L48.5 61.7 L50.5 62.4 L52.5 63.2 L54.5 63.8 L55.8 65.3 L57.5 66.0 L57.8 66.8 L58.0 68.0 L59.5 69.3 L60.6 70.5 L59.5 70.3 L57.5 70.1 L56.0 68.3 L54.5 67.5 L53.0 69.0 L51.0 69.1 L49.0 68.1 L48.0 68.4 L47.8 67.6 L48.5 66.5 L47.0 64.9 L45.0 64.4 L43.0 64.0 L42.0 62.8 L43.5 62.5 L42.0 62.0ZM210.6 12.4 L212.5 12.4 L214.5 13.0 L216.4 13.4 L217.3 12.5 L216.5 11.7 L216.2 10.7 L214.5 10.4 L214.4 8.4 L213.0 9.2 L211.5 10.8ZM298.0 18.5 L298.0 17.2 L298.7 16.0 L299.7 14.8 L300.8 13.5 L302.0 13.5 L303.6 13.9 L302.5 14.6 L303.6 15.6 L305.3 15.1 L306.6 14.7 L307.3 15.1 L308.3 15.8 L309.9 16.6 L311.6 18.4 L310.0 19.0 L308.0 19.1 L306.5 18.7 L305.0 18.0 L303.5 18.0 L301.5 18.8 L299.1 18.8ZM305.0 14.4 L305.5 14.6 L306.6 14.6 L308.0 13.5 L309.3 12.8 L307.5 12.9 L305.4 13.5ZM317.0 15.2 L317.5 14.4 L319.2 13.5 L321.5 13.0 L323.2 13.3 L323.0 14.7 L321.2 15.6 L320.5 16.0 L321.3 16.9 L322.7 18.0 L322.8 19.0 L323.9 19.2 L323.0 20.8 L324.0 22.5 L323.0 23.2 L321.0 23.3 L319.0 22.4 L318.8 21.2 L319.4 19.8 L318.6 18.2 L317.5 17.0 L317.5 16.0ZM177.0 -1.0 L177.4 0.9 L181.3 2.5 L187.0 3.7 L188.7 6.5 L190.4 7.6 L191.5 5.9 L192.6 2.0 L193.2 0.3 L193.0 -1.0Z" fill="#b3b3b3" fill-rule="evenodd" stroke="#000" stroke-width="1.1" vector-effect="non-scaling-stroke" stroke-linejoin="round"/>
<path d="M54.6 100.7 L56.5 101.1 L58.3 100.9 L58.3 102.0 L57.9 103.2 L56.0 103.6 L55.2 102.2ZM82.7 94.4 L84.3 95.5 L85.5 96.8 L86.5 97.7 L88.5 97.7 L87.9 99.3 L86.9 100.0 L85.3 101.6 L84.6 101.3 L85.2 100.2 L83.8 99.3 L84.6 98.2 L84.3 96.6 L83.0 95.0ZM82.7 100.5 L84.3 101.0 L84.0 101.8 L83.0 103.0 L82.7 103.8 L81.2 104.5 L80.7 105.9 L79.0 106.6 L76.5 106.0 L76.8 105.2 L78.3 104.0 L80.5 103.0 L81.5 101.8 L82.1 100.8ZM50.0 18.5 L51.2 18.2 L51.6 17.4 L53.2 18.0 L54.5 17.0 L55.8 16.6 L55.0 15.9 L53.0 15.5 L51.9 14.5 L51.6 15.6 L51.4 16.8 L50.3 16.7 L49.9 17.8ZM51.4 18.6 L52.0 20.5 L51.0 21.8 L51.0 23.0 L50.8 24.0 L50.9 24.3 L49.8 25.0 L49.2 24.8 L48.8 25.4 L47.2 25.4 L46.8 25.7 L45.8 26.5 L45.1 25.7 L44.3 25.3 L43.0 25.6 L41.9 26.0 L40.9 26.0 L41.5 25.4 L42.6 24.5 L44.0 24.4 L45.8 24.4 L46.7 23.7 L47.0 22.5 L47.5 23.0 L48.5 22.3 L49.5 21.5 L50.0 20.5 L50.0 19.5 L50.3 18.8ZM40.9 26.1 L41.9 26.8 L41.4 28.6 L40.7 29.0 L40.2 28.7 L40.2 27.5 L39.6 26.8 L40.5 26.2ZM42.0 26.5 L43.0 27.3 L44.3 26.7 L44.6 25.9 L43.5 25.7 L42.6 26.0ZM52.0 14.0 L53.5 13.5 L53.2 10.8 L54.5 11.2 L53.2 9.0 L53.2 8.0 L53.3 6.7 L52.7 5.6 L52.2 6.0 L52.2 8.0 L51.6 9.0 L52.1 11.0 L51.9 12.5ZM30.1 37.0 L30.7 38.0 L31.0 37.5 L31.6 36.0 L31.9 35.0 L31.5 34.7 L30.7 35.4ZM18.6 40.8 L19.7 41.8 L20.5 41.3 L21.0 40.3 L20.5 39.9 L19.7 40.0ZM34.3 47.5 L35.7 48.8 L35.2 50.0 L34.8 49.7 L34.4 48.6ZM31.9 48.1 L33.2 49.0 L33.2 50.7 L32.5 50.4 L32.0 49.4ZM33.4 48.8 L34.0 49.6 L33.5 50.3ZM30.3 46.5 L31.5 46.8 L31.2 47.7 L30.6 47.5ZM27.2 51.7 L29.5 48.6 L29.7 49.4 L27.5 52.0ZM5.3 54.4 L7.5 54.8 L8.7 56.3 L10.4 57.8 L11.5 58.3 L13.5 60.0 L14.2 61.0 L15.0 62.5 L15.9 63.8 L15.8 65.8 L14.5 65.9 L12.3 64.0 L10.9 62.0 L10.3 60.9 L9.3 59.8 L8.7 58.3 L7.5 57.4 L6.0 55.8ZM15.2 66.8 L16.0 65.9 L18.3 66.3 L20.4 66.9 L22.6 66.9 L24.4 67.7 L24.6 68.7 L22.0 68.3 L20.0 68.1 L18.0 67.8 L16.4 67.4ZM29.4 65.5 L29.6 63.5 L28.9 62.6 L29.8 60.0 L30.1 59.3 L31.0 58.7 L32.5 59.0 L34.5 59.0 L35.2 58.4 L34.3 59.6 L33.0 59.5 L31.0 59.5 L30.2 59.8 L30.5 61.0 L31.5 61.0 L33.3 60.9 L32.5 61.5 L31.3 62.0 L32.4 63.5 L33.2 64.7 L32.5 65.5 L31.5 64.6 L31.0 63.0 L30.4 62.9 L30.4 65.5ZM37.5 57.8 L38.0 58.7 L38.7 59.0 L37.9 59.5 L38.8 59.7 L38.0 60.3 L37.4 59.5ZM38.0 62.9 L40.0 62.9 L40.8 63.6 L39.5 63.5 L38.2 63.4ZM36.0 63.2 L37.2 63.2 L37.0 63.8 L36.2 63.8ZM58.3 65.5 L60.0 65.0 L61.5 64.3 L62.3 64.5 L61.5 65.5 L60.0 66.2 L58.5 66.0ZM60.5 62.6 L62.5 64.0 L63.2 64.7 L62.6 64.4 L61.2 63.0ZM74.0 80.2 L75.5 81.0 L77.0 82.3 L76.5 82.4 L74.3 80.6ZM349.9 50.2 L351.0 51.2 L351.9 52.7 L351.6 53.6 L350.6 54.1 L350.0 53.5 L349.8 52.0ZM264.3 9.9 L265.8 9.6 L267.0 9.3 L269.0 9.2 L271.4 8.8 L271.0 8.2 L271.7 7.3 L270.3 7.0 L270.1 6.4 L269.8 5.8 L268.7 5.2 L268.4 4.4 L267.5 4.0 L267.4 3.6 L268.2 2.5 L266.5 2.3 L267.0 1.4 L265.0 1.4 L264.5 2.5 L264.3 3.5 L264.5 4.6 L265.2 5.0 L265.0 5.3 L266.8 5.2 L266.5 6.0 L267.0 6.7 L265.4 6.7 L265.9 7.2 L265.9 7.7 L264.7 8.2 L266.0 8.4 L267.0 8.8 L265.5 9.0ZM264.0 7.8 L263.9 6.7 L264.0 5.5 L264.1 4.8 L262.7 4.6 L261.5 5.1 L260.0 5.8 L260.5 6.7 L260.1 7.8 L259.7 8.2 L260.5 8.5 L262.0 8.2 L263.7 7.8ZM185.1 38.1 L187.0 37.1 L189.0 36.9 L190.5 37.6 L192.5 38.3 L194.3 38.9 L195.9 39.8 L194.5 40.1 L192.3 40.1 L192.7 39.3 L191.5 38.5 L189.5 38.0 L188.0 37.8 L186.5 38.0ZM195.6 41.5 L197.2 40.1 L199.0 40.1 L200.5 40.8 L201.7 41.4 L200.5 41.7 L198.9 42.3 L197.5 41.8 L195.6 41.7ZM191.7 41.6 L193.7 41.9 L193.2 42.2 L191.8 41.8ZM202.8 41.5 L204.4 41.6 L204.2 42.0 L202.8 42.0ZM115.2 2.7 L117.8 2.0 L117.5 2.5 L116.0 3.3ZM282.4 22.0 L285.6 21.7 L285.1 23.3 L282.6 22.4ZM278.2 19.0 L279.6 18.9 L279.6 20.9 L278.4 21.1 L278.4 20.0ZM278.6 18.0 L279.4 17.0 L279.6 17.9 L279.2 18.6ZM293.5 24.5 L296.3 24.7 L296.2 25.0 L294.0 24.8ZM302.3 25.0 L304.6 24.4 L304.0 25.1 L303.0 25.4ZM226.0 0.2 L227.0 -0.2 L223.0 -1.0 L222.0 -1.0ZM208.7 111.2 L212.0 111.3 L211.5 112.2 L209.5 112.0ZM323.3 47.3 L324.5 47.4 L324.2 47.7 L323.5 47.7ZM2.7 46.5 L3.0 48.0 L2.6 48.5ZM25.0 68.1 L25.7 68.4 L25.2 68.8ZM26.0 68.3 L26.7 68.3 L26.4 68.9ZM27.0 68.5 L29.0 68.3 L28.8 68.8 L27.2 69.0ZM29.8 68.5 L32.8 68.2 L32.5 68.7 L30.0 68.8ZM33.5 70.3 L35.0 69.0 L37.3 68.4 L36.0 69.2 L34.2 70.2ZM29.0 69.5 L30.8 69.8 L30.5 70.3 L29.2 69.8ZM66.5 66.6 L67.5 67.3 L67.0 67.5ZM67.5 68.2 L69.5 69.3 L70.5 69.8 L69.8 69.9 L68.0 68.8ZM70.5 68.5 L71.5 69.5 L71.2 69.6 L70.6 68.9ZM70.2 70.3 L71.9 70.6 L72.2 70.8 L71.3 70.9ZM76.6 74.7 L77.2 75.6 L76.8 75.6ZM77.2 76.1 L78.5 77.7 L78.2 77.8 L77.2 76.6ZM87.3 77.5 L88.6 77.4 L88.4 78.2 L87.4 78.1ZM88.8 76.4 L90.0 76.1 L89.8 76.8 L88.7 76.9ZM114.1 39.8 L115.0 40.3 L114.4 41.1 L114.0 40.4ZM113.4 39.0 L114.0 39.2 L113.6 39.4ZM111.8 38.4 L112.3 38.7 L111.9 38.7ZM110.3 37.8 L110.7 37.9 L110.4 38.1ZM186.5 30.6 L187.3 31.5 L187.4 32.7 L188.2 33.8 L189.0 34.8 L189.6 34.7 L189.9 33.7 L189.7 32.5 L189.4 31.5 L188.8 30.4 L188.6 29.5ZM102.4 6.2 L103.4 5.9 L104.4 6.2 L103.4 6.5ZM100.8 6.6 L101.7 6.3 L102.6 6.6 L101.7 6.9ZM99.0 7.2 L99.5 6.9 L100.0 7.2 L99.5 7.5ZM95.7 7.8 L96.5 7.5 L97.3 7.8 L96.5 8.0ZM94.6 7.8 L95.4 7.5 L96.2 7.8 L95.4 8.0ZM92.6 8.1 L93.3 7.8 L94.0 8.1 L93.3 8.4ZM91.4 8.2 L92.0 7.9 L92.6 8.2 L92.0 8.5ZM86.9 8.0 L87.5 7.7 L88.1 8.0 L87.5 8.3ZM82.4 7.1 L83.2 6.8 L84.0 7.1 L83.2 7.4ZM107.0 5.4 L107.5 5.2 L108.0 5.4 L107.5 5.6ZM325.1 81.1 L325.5 80.7 L325.9 81.1 L325.5 81.5ZM327.2 80.3 L327.6 79.9 L328.0 80.3 L327.6 80.7ZM338.3 109.3 L339.5 108.7 L340.7 109.3 L339.5 109.9ZM321.1 106.4 L321.5 106.1 L321.9 106.4 L321.5 106.7ZM255.4 67.9 L255.7 67.6 L256.0 67.9 L255.7 68.2ZM120.0 77.6 L120.5 77.3 L121.0 77.6 L120.5 77.9ZM96.9 73.7 L97.7 73.3 L98.5 73.7 L97.7 74.1ZM94.3 81.2 L94.8 80.8 L95.3 81.2 L94.8 81.6ZM178.8 60.5 L179.5 59.9 L180.2 60.5 L179.5 61.1ZM160.3 87.1 L160.6 86.8 L160.9 87.1 L160.6 87.4ZM232.5 114.3 L233.5 114.0 L234.5 114.3 L233.5 114.6ZM243.8 22.2 L244.4 21.9 L245.0 22.2 L244.4 22.5ZM252.0 31.7 L253.5 31.3 L255.0 31.7 L253.5 32.1ZM252.6 27.3 L253.0 27.0 L253.4 27.3 L253.0 27.6ZM54.5 46.6 L54.8 46.3 L55.1 46.6 L54.8 46.9ZM189.2 33.4 L190.0 32.8 L190.8 33.4 L190.0 34.0ZM192.0 35.5 L192.5 34.7 L193.0 35.5 L192.5 36.3ZM208.6 45.5 L209.0 44.9 L209.4 45.5 L209.0 46.1ZM208.1 49.6 L208.7 49.2 L209.3 49.6 L208.7 50.0ZM190.7 93.6 L191.0 93.3 L191.3 93.6 L191.0 93.9Z" fill="none" stroke="#000" stroke-width="1.1" vector-effect="non-scaling-stroke" stroke-linejoin="round"/>
<path d="M13.8 8.4 L15.5 8.2 L17.5 7.0 L19.5 5.5 L19.8 4.3 L19.3 4.2 L18.5 5.5 L16.5 6.8 L14.5 8.0ZM171.5 9.5 L173.0 9.5 L173.5 8.0 L172.0 6.2 L170.8 7.0ZM328.5 16.0 L331.0 15.5 L331.5 13.5 L329.5 13.8 L328.2 14.5ZM344.0 14.0 L346.0 13.4 L349.0 13.5 L349.2 13.1 L346.0 13.0 L344.3 13.2ZM301.8 61.0 L303.0 59.7 L304.0 59.8 L304.0 61.5 L303.0 62.5 L301.8 62.2ZM299.2 63.4 L299.6 63.4 L301.0 66.0 L301.2 68.6 L300.6 68.6 L299.5 66.5ZM304.2 69.5 L304.6 69.6 L305.2 72.0 L305.3 74.3 L304.8 74.2 L304.3 72.0ZM283.5 47.4 L284.8 47.0 L284.6 46.0 L283.6 46.2ZM200.0 75.3 L201.0 75.6 L201.2 76.3 L200.2 76.0ZM178.0 13.3 L182.0 11.5 L185.0 13.0 L185.5 13.5 L182.5 13.5ZM182.2 18.0 L183.5 17.5 L184.5 14.5 L186.0 14.0 L186.5 14.8 L188.5 14.7 L190.0 15.5 L187.5 17.0 L185.5 16.5 L184.0 15.8 L183.0 14.5 L182.2 15.5ZM186.5 18.3 L191.0 17.2 L190.5 17.5 L187.5 18.5ZM190.3 16.7 L193.8 16.5 L192.5 16.1 L190.5 16.4ZM153.0 -1.0 L157.0 -1.5 L156.0 -2.0 L153.0 -1.6Z" fill="#b3b3b3" stroke="#000" stroke-width="1.1" vector-effect="non-scaling-stroke" stroke-linejoin="round"/>
</g></g>
<rect x="25.75" y="14.3" width="342" height="114.4" fill="none" stroke="#000" stroke-width="1.4"/>
<path d="M26.50 128.50v4.6M26.50 14.50v-4.6M35.50 128.50v2.1M35.50 14.50v-2.1M44.50 128.50v2.1M44.50 14.50v-2.1M54.50 128.50v4.6M54.50 14.50v-4.6M63.50 128.50v2.1M63.50 14.50v-2.1M73.50 128.50v2.1M73.50 14.50v-2.1M82.50 128.50v4.6M82.50 14.50v-4.6M92.50 128.50v2.1M92.50 14.50v-2.1M101.50 128.50v2.1M101.50 14.50v-2.1M111.50 128.50v4.6M111.50 14.50v-4.6M120.50 128.50v2.1M120.50 14.50v-2.1M130.50 128.50v2.1M130.50 14.50v-2.1M139.50 128.50v4.6M139.50 14.50v-4.6M149.50 128.50v2.1M149.50 14.50v-2.1M158.50 128.50v2.1M158.50 14.50v-2.1M168.50 128.50v4.6M168.50 14.50v-4.6M177.50 128.50v2.1M177.50 14.50v-2.1M187.50 128.50v2.1M187.50 14.50v-2.1M196.50 128.50v4.6M196.50 14.50v-4.6M205.50 128.50v2.1M205.50 14.50v-2.1M215.50 128.50v2.1M215.50 14.50v-2.1M224.50 128.50v4.6M224.50 14.50v-4.6M234.50 128.50v2.1M234.50 14.50v-2.1M243.50 128.50v2.1M243.50 14.50v-2.1M253.50 128.50v4.6M253.50 14.50v-4.6M262.50 128.50v2.1M262.50 14.50v-2.1M272.50 128.50v2.1M272.50 14.50v-2.1M281.50 128.50v4.6M281.50 14.50v-4.6M291.50 128.50v2.1M291.50 14.50v-2.1M300.50 128.50v2.1M300.50 14.50v-2.1M310.50 128.50v4.6M310.50 14.50v-4.6M319.50 128.50v2.1M319.50 14.50v-2.1M329.50 128.50v2.1M329.50 14.50v-2.1M338.50 128.50v4.6M338.50 14.50v-4.6M348.50 128.50v2.1M348.50 14.50v-2.1M357.50 128.50v2.1M357.50 14.50v-2.1M367.50 128.50v4.6M367.50 14.50v-4.6M26.00 14.50h-4.6M367.00 14.50h4.6M26.00 24.50h-2.1M367.00 24.50h2.1M26.00 33.50h-2.1M367.00 33.50h2.1M26.00 43.50h-4.6M367.00 43.50h4.6M26.00 52.50h-2.1M367.00 52.50h2.1M26.00 62.50h-2.1M367.00 62.50h2.1M26.00 71.50h-4.6M367.00 71.50h4.6M26.00 81.50h-2.1M367.00 81.50h2.1M26.00 90.50h-2.1M367.00 90.50h2.1M26.00 100.50h-4.6M367.00 100.50h4.6M26.00 109.50h-2.1M367.00 109.50h2.1M26.00 119.50h-2.1M367.00 119.50h2.1M26.00 128.50h-4.6M367.00 128.50h4.6" stroke="#000" stroke-width="1.2" fill="none"/>
<text x="16.2" y="17.7" text-anchor="end" font-size="8.9">60N</text>
<text x="16.2" y="46.2" text-anchor="end" font-size="8.9">30N</text>
<text x="16.2" y="74.7" text-anchor="end" font-size="8.9">0</text>
<text x="16.2" y="103.2" text-anchor="end" font-size="8.9">30S</text>
<text x="16.2" y="131.7" text-anchor="end" font-size="8.9">60S</text>
<text x="26.0" y="145.4" text-anchor="middle" font-size="8.9">90E</text>
<text x="54.4" y="145.4" text-anchor="middle" font-size="8.9">120E</text>
<text x="82.8" y="145.4" text-anchor="middle" font-size="8.9">150E</text>
<text x="111.2" y="145.4" text-anchor="middle" font-size="8.9">180</text>
<text x="139.7" y="145.4" text-anchor="middle" font-size="8.9">150W</text>
<text x="168.1" y="145.4" text-anchor="middle" font-size="8.9">120W</text>
<text x="196.5" y="145.4" text-anchor="middle" font-size="8.9">90W</text>
<text x="224.9" y="145.4" text-anchor="middle" font-size="8.9">60W</text>
<text x="253.3" y="145.4" text-anchor="middle" font-size="8.9">30W</text>
<text x="281.8" y="145.4" text-anchor="middle" font-size="8.9">0</text>
<text x="310.2" y="145.4" text-anchor="middle" font-size="8.9">30E</text>
<text x="338.6" y="145.4" text-anchor="middle" font-size="8.9">60E</text>
<text x="367.0" y="145.4" text-anchor="middle" font-size="8.9">90E</text>
<text x="27.0" y="10.0" font-size="14">b</text>
<text x="367.3" y="8.7" text-anchor="end" font-size="11.6">HIST-AER minus HIST</text>
</g>
<path d="M100.90 343.30L91.10 348.25L100.90 353.20Z" fill="#1e14c8" stroke="#000" stroke-width="1"/>
<rect x="100.90" y="343.30" width="9.60" height="9.9" fill="#1a30ea" stroke="#000" stroke-width="1"/>
<rect x="110.50" y="343.30" width="9.60" height="9.9" fill="#2250f6" stroke="#000" stroke-width="1"/>
<rect x="120.10" y="343.30" width="9.60" height="9.9" fill="#2456f8" stroke="#000" stroke-width="1"/>
<rect x="129.70" y="343.30" width="9.60" height="9.9" fill="#3e88fa" stroke="#000" stroke-width="1"/>
<rect x="139.30" y="343.30" width="9.60" height="9.9" fill="#50a8fc" stroke="#000" stroke-width="1"/>
<rect x="148.90" y="343.30" width="9.60" height="9.9" fill="#64c0fc" stroke="#000" stroke-width="1"/>
<rect x="158.50" y="343.30" width="9.60" height="9.9" fill="#96e6fe" stroke="#000" stroke-width="1"/>
<rect x="168.10" y="343.30" width="9.60" height="9.9" fill="#96e6fe" stroke="#000" stroke-width="1"/>
<rect x="177.70" y="343.30" width="9.60" height="9.9" fill="#b4f6fe" stroke="#000" stroke-width="1"/>
<rect x="187.30" y="343.30" width="9.60" height="9.9" fill="#e2fefe" stroke="#000" stroke-width="1"/>
<rect x="196.90" y="343.30" width="9.60" height="9.9" fill="#fffce4" stroke="#000" stroke-width="1"/>
<rect x="206.50" y="343.30" width="9.60" height="9.9" fill="#fff0b6" stroke="#000" stroke-width="1"/>
<rect x="216.10" y="343.30" width="9.60" height="9.9" fill="#ffd898" stroke="#000" stroke-width="1"/>
<rect x="225.70" y="343.30" width="9.60" height="9.9" fill="#ffd494" stroke="#000" stroke-width="1"/>
<rect x="235.30" y="343.30" width="9.60" height="9.9" fill="#ffa466" stroke="#000" stroke-width="1"/>
<rect x="244.90" y="343.30" width="9.60" height="9.9" fill="#ff6a48" stroke="#000" stroke-width="1"/>
<rect x="254.50" y="343.30" width="9.60" height="9.9" fill="#fc4044" stroke="#000" stroke-width="1"/>
<rect x="264.10" y="343.30" width="9.60" height="9.9" fill="#f6303e" stroke="#000" stroke-width="1"/>
<rect x="273.70" y="343.30" width="9.60" height="9.9" fill="#f42c40" stroke="#000" stroke-width="1"/>
<rect x="283.30" y="343.30" width="9.60" height="9.9" fill="#d41a34" stroke="#000" stroke-width="1"/>
<path d="M292.90 343.30L302.70 348.25L292.90 353.20Z" fill="#c40a26" stroke="#000" stroke-width="1"/>
<text x="110.5" y="365.2" text-anchor="middle" font-size="11.6">-1.8</text>
<text x="139.3" y="365.2" text-anchor="middle" font-size="11.6">-1.2</text>
<text x="168.1" y="365.2" text-anchor="middle" font-size="11.6">-0.6</text>
<text x="196.9" y="365.2" text-anchor="middle" font-size="11.6">0</text>
<text x="225.7" y="365.2" text-anchor="middle" font-size="11.6">0.6</text>
<text x="254.5" y="365.2" text-anchor="middle" font-size="11.6">1.2</text>
<text x="283.3" y="365.2" text-anchor="middle" font-size="11.6">1.8</text>
<text x="197" y="378.0" text-anchor="middle" font-size="11.6">SST (<tspan font-size="7.6" dy="-4.2">o</tspan><tspan dy="4.2">C)</tspan></text>
</svg></body></html>
